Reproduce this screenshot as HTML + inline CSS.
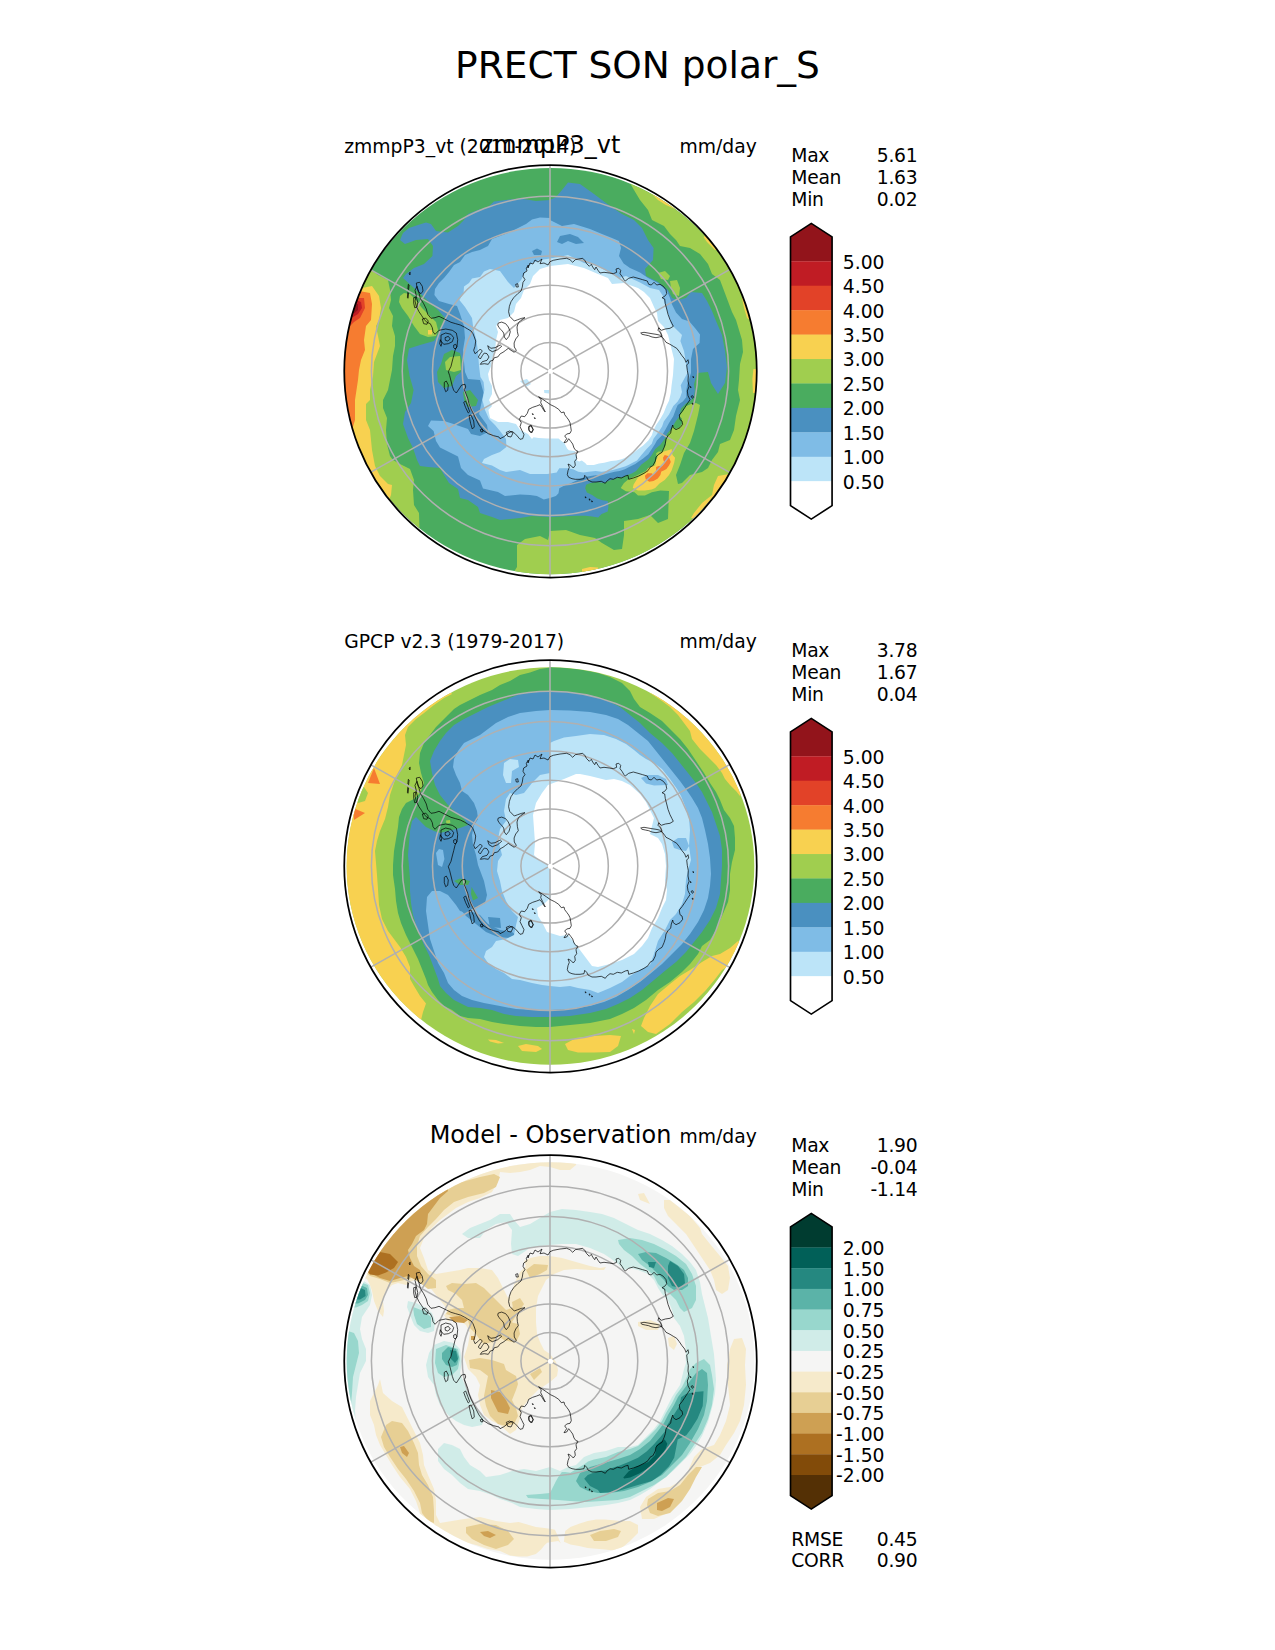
<!DOCTYPE html>
<html lang="en"><head><meta charset="utf-8"><title>PRECT SON polar_S</title>
<style>html,body{margin:0;padding:0;background:#fff}svg{display:block}text{font-family:"DejaVu Sans","Liberation Sans",sans-serif;fill:#000}</style>
</head><body>
<svg width="1275" height="1650" viewBox="0 0 1275 1650">
<rect width="1275" height="1650" fill="#fff"/>
<defs>
<clipPath id="c0"><circle cx="550.50" cy="371.25" r="206.25"/></clipPath>
<clipPath id="d0"><ellipse cx="550.50" cy="371.05" rx="207.00" ry="203.10"/></clipPath>
<clipPath id="c1"><circle cx="550.50" cy="866.25" r="206.25"/></clipPath>
<clipPath id="d1"><ellipse cx="550.50" cy="866.05" rx="203.80" ry="198.80"/></clipPath>
<clipPath id="c2"><circle cx="550.50" cy="1361.25" r="206.25"/></clipPath>
<clipPath id="d2"><ellipse cx="550.50" cy="1361.05" rx="203.80" ry="198.80"/></clipPath>
</defs>
<text x="637.5" y="77.6" font-size="37.5" text-anchor="middle">PRECT SON polar_S</text>
<g clip-path="url(#c0)">
<g clip-path="url(#d0)">
<rect x="340" y="161.0" width="422" height="422" fill="#4aac5f"/>
<path d="M370.0 269.0 L378.0 275.0 L388.0 280.0 L390.0 290.0 L391.0 300.0 L389.0 308.0 L393.0 316.0 L392.0 326.0 L395.0 336.0 L395.0 346.0 L393.0 356.0 L392.0 370.0 L390.0 380.0 L388.0 390.0 L383.0 400.0 L383.0 408.0 L387.0 418.0 L386.0 430.0 L387.0 444.0 L390.0 456.0 L393.0 460.0 L400.0 464.0 L410.0 469.0 L414.0 480.0 L413.0 490.0 L414.0 505.0 L419.0 513.0 L419.6 532.0 L400.0 570.0 L320.0 570.0 L320.0 250.0 L360.0 250.0 Z" fill="#a0ce4f" />
<path d="M362.0 288.0 L372.0 286.0 L379.0 296.0 L381.0 308.0 L379.0 320.0 L376.0 326.0 L378.0 336.0 L380.0 346.0 L377.0 354.0 L374.0 362.0 L373.0 376.0 L370.0 390.0 L370.0 400.0 L366.0 404.0 L366.0 420.0 L370.0 430.0 L372.0 450.0 L375.0 466.0 L380.0 476.0 L388.0 484.0 L392.0 485.0 L391.0 495.0 L389.0 500.0 L370.0 530.0 L320.0 520.0 L320.0 280.0 Z" fill="#f8d150" />
<path d="M359.0 291.0 L370.0 293.0 L372.0 304.0 L371.0 320.0 L366.0 326.0 L364.0 340.0 L365.0 350.0 L361.0 360.0 L359.0 370.0 L358.0 380.0 L355.0 400.0 L355.0 420.0 L352.0 430.0 L330.0 435.0 L330.0 290.0 Z" fill="#f67c30" />
<path d="M357.0 298.0 L364.0 298.0 L365.0 308.0 L360.0 318.0 L354.0 322.0 L350.0 326.0 L335.0 326.0 L335.0 298.0 Z" fill="#e24228" />
<path d="M356.0 300.0 L361.0 302.0 L362.0 308.0 L358.0 314.0 L353.0 317.0 L338.0 317.0 L338.0 300.0 Z" fill="#c01c24" />
<path d="M355.0 304.0 L358.0 304.0 L358.0 310.0 L354.4 313.0 L340.0 313.0 L340.0 304.0 Z" fill="#92141b" />
<path d="M630.0 183.0 L634.0 190.0 L640.0 200.0 L648.0 210.0 L652.0 220.0 L664.0 226.0 L670.0 234.0 L676.0 240.0 L680.0 246.0 L690.0 248.0 L700.0 254.0 L708.0 264.0 L712.0 274.0 L720.0 280.0 L726.0 296.0 L732.0 312.0 L736.0 320.0 L742.0 340.0 L743.0 352.0 L740.0 364.0 L739.0 380.0 L738.0 390.0 L740.0 400.0 L736.0 416.0 L734.0 430.0 L730.0 440.0 L720.0 444.0 L718.0 452.0 L712.0 460.0 L708.0 468.0 L702.0 472.0 L690.0 475.0 L682.0 483.0 L678.0 484.0 L676.0 475.0 L680.0 465.0 L684.0 453.0 L690.0 443.0 L694.0 431.0 L698.0 415.0 L700.0 405.0 L696.0 403.0 L691.0 404.0 L686.3 405.9 L679.4 416.2 L682.0 418.8 L682.0 424.0 L679.4 427.5 L675.1 429.2 L673.3 426.6 L671.6 430.0 L668.2 435.2 L666.4 439.5 L665.6 445.6 L662.1 451.6 L658.7 451.6 L656.1 453.3 L656.9 457.7 L655.2 462.8 L651.8 466.3 L648.3 469.7 L641.4 473.2 L634.5 476.6 L628.5 479.2 L624.0 483.0 L620.7 487.9 L625.9 491.3 L634.5 492.2 L638.0 495.6 L644.9 495.6 L651.8 492.2 L660.4 490.4 L669.0 491.0 L668.0 519.0 L658.0 523.0 L650.0 515.0 L638.0 519.0 L624.0 521.0 L624.0 535.0 L622.0 549.0 L614.0 550.0 L602.0 543.0 L595.0 538.0 L580.0 535.0 L566.0 530.0 L550.0 531.0 L548.0 540.0 L540.0 536.0 L525.0 539.0 L517.0 545.0 L517.0 567.0 L512.0 575.0 L512.0 600.0 L790.0 600.0 L790.0 150.0 L630.0 150.0 Z" fill="#a0ce4f" />
<path d="M651.0 193.0 L658.0 200.0 L666.0 205.0 L675.0 209.0 L682.0 208.0 L662.0 190.0 Z" fill="#f8d150" />
<path d="M703.6 237.0 L707.0 242.0 L711.0 246.0 L715.0 250.0 L722.0 248.0 L710.0 232.0 Z" fill="#f8d150" />
<path d="M742.0 298.0 L744.0 308.0 L747.0 318.0 L750.0 320.0 L754.0 300.0 Z" fill="#f8d150" />
<path d="M753.4 369.0 L752.4 379.0 L753.0 393.0 L758.0 393.0 L760.0 369.0 Z" fill="#f8d150" />
<path d="M729.0 474.0 L718.0 476.0 L714.0 485.0 L712.0 495.0 L702.0 503.0 L694.0 513.0 L691.0 518.0 L710.0 521.0 L734.0 485.0 Z" fill="#f8d150" />
<path d="M582.0 569.0 L590.0 567.0 L598.0 567.4 L600.0 575.0 L582.0 575.0 Z" fill="#f8d150" />
<path d="M632.8 487.9 L633.6 484.4 L638.0 477.5 L644.9 473.2 L648.3 468.0 L655.2 465.4 L656.1 460.2 L658.7 455.1 L663.8 451.6 L669.0 449.9 L671.6 449.0 L672.5 455.1 L675.1 457.7 L674.2 462.8 L671.6 470.6 L669.0 474.9 L664.7 480.1 L659.5 483.5 L655.2 487.9 L651.8 489.6 L644.9 490.4 L638.0 490.4 L634.5 488.7 Z" fill="#f8d150" />
<path d="M663.0 457.7 L664.7 455.1 L668.2 455.9 L669.9 459.4 L670.8 462.0 L669.0 465.4 L666.4 468.9 L663.8 470.6 L661.3 471.5 L660.4 474.9 L657.8 478.4 L653.5 481.0 L649.2 481.8 L645.7 479.2 L644.9 475.8 L647.5 473.2 L651.8 473.2 L653.5 474.9 L656.1 471.5 L656.1 467.1 L658.7 465.9 L662.1 466.3 L664.7 462.8 L663.4 460.2 Z" fill="#f67c30" />
<path d="M658.0 273.0 L665.0 271.0 L670.0 276.0 L668.0 280.0 L661.0 279.0 Z" fill="#a0ce4f" />
<path d="M670.0 281.0 L677.0 280.0 L680.0 288.0 L679.0 296.0 L673.0 294.0 L671.0 288.0 Z" fill="#a0ce4f" />
<path d="M550.0 200.0 L536.0 201.0 L520.0 198.6 L506.0 200.0 L494.0 201.4 L488.0 207.0 L478.0 210.0 L468.0 214.0 L464.0 220.0 L458.0 226.0 L448.0 232.4 L436.0 231.0 L431.0 224.0 L426.0 222.4 L418.0 225.0 L409.0 228.0 L403.0 233.0 L400.0 240.0 L405.0 244.0 L416.0 240.0 L428.0 239.0 L433.0 246.0 L432.4 256.0 L424.0 264.0 L414.0 268.0 L406.0 274.0 L403.0 278.0 L414.0 288.0 L426.0 299.0 L438.0 310.0 L445.0 318.0 L442.0 326.0 L438.0 334.0 L434.0 341.0 L420.0 345.0 L409.0 348.4 L407.0 360.0 L409.6 376.0 L413.6 390.0 L411.0 403.0 L405.0 412.0 L403.0 424.0 L408.0 438.0 L413.0 448.0 L417.0 460.0 L420.0 466.0 L428.0 467.0 L440.0 468.0 L444.0 475.0 L449.0 483.0 L458.0 489.0 L460.0 498.0 L468.0 500.0 L478.0 507.0 L480.0 513.0 L492.0 517.0 L500.0 520.0 L510.0 519.0 L520.0 518.0 L532.0 516.0 L550.0 517.0 L576.6 515.8 L585.2 515.8 L592.1 516.6 L598.2 517.5 L601.6 514.0 L607.7 511.5 L608.5 506.3 L607.7 501.1 L602.5 500.2 L597.3 498.5 L592.1 495.1 L586.9 492.5 L585.2 488.2 L586.1 484.7 L590.4 483.0 L597.3 482.1 L604.2 483.0 L607.7 481.3 L612.8 479.5 L618.0 477.8 L623.2 476.9 L626.6 475.2 L631.8 473.5 L636.1 470.9 L641.4 464.6 L648.3 459.4 L651.8 455.1 L655.2 449.0 L660.4 444.7 L664.7 438.7 L667.3 433.5 L671.6 428.3 L675.1 422.3 L679.4 416.2 L681.1 408.5 L686.3 403.3 L689.7 401.6 L694.0 397.3 L694.9 390.4 L694.0 384.3 L697.0 373.0 L708.0 372.0 L711.0 383.0 L718.0 394.0 L725.0 383.0 L727.0 367.0 L725.0 351.0 L722.0 335.0 L716.0 321.0 L712.0 311.0 L707.0 301.0 L702.0 293.0 L691.0 292.0 L686.0 298.0 L678.0 300.0 L672.0 298.0 L668.0 290.0 L658.0 282.0 L646.0 276.0 L645.0 269.0 L653.0 260.0 L653.6 248.0 L648.0 240.0 L642.0 228.0 L634.0 220.0 L622.0 214.0 L616.0 210.0 L606.0 203.0 L594.0 194.0 L580.0 184.0 L568.0 182.4 L562.0 190.0 L556.0 197.0 Z" fill="#4a90c0" />
<path d="M550.0 218.0 L540.0 217.6 L532.0 219.4 L526.0 224.0 L516.0 229.0 L508.0 233.0 L500.0 236.0 L492.0 239.0 L488.0 246.0 L480.0 250.0 L472.0 252.0 L465.0 255.0 L460.0 262.0 L454.0 265.0 L449.0 272.0 L444.0 278.0 L439.0 283.0 L435.0 289.0 L434.4 295.0 L439.0 301.0 L449.0 304.0 L457.0 306.0 L460.0 314.0 L464.0 326.0 L465.0 338.0 L463.0 350.0 L464.0 362.0 L465.0 372.0 L468.0 379.0 L480.0 380.0 L483.6 393.0 L481.0 405.0 L479.0 414.0 L487.0 425.0 L488.0 432.0 L480.0 436.0 L471.0 434.0 L468.0 429.0 L452.0 423.6 L444.0 421.0 L431.0 420.6 L428.0 426.0 L433.6 431.0 L436.0 441.0 L440.0 447.4 L451.0 453.0 L458.0 456.6 L461.0 468.0 L468.0 475.0 L480.0 480.6 L483.0 488.6 L498.0 492.0 L505.0 496.0 L520.0 494.4 L530.0 495.1 L536.9 495.9 L543.8 499.4 L550.7 497.7 L555.9 495.9 L558.5 493.3 L559.3 488.2 L564.5 485.6 L569.7 483.8 L574.9 481.3 L580.0 478.7 L585.2 476.9 L590.4 476.1 L595.6 475.2 L601.6 475.2 L607.7 473.5 L614.6 471.8 L619.7 470.9 L624.9 469.2 L630.1 466.6 L635.3 464.0 L638.0 462.0 L643.1 458.5 L648.3 454.2 L651.8 449.0 L655.2 443.8 L656.9 440.4 L662.1 435.2 L665.6 429.2 L669.0 423.1 L673.3 416.2 L675.9 409.3 L677.7 405.0 L682.8 401.6 L686.3 397.3 L686.3 390.4 L687.1 385.2 L691.0 373.0 L691.0 359.0 L693.0 349.0 L699.6 343.0 L700.0 334.6 L695.4 328.4 L689.4 321.4 L682.0 319.0 L676.0 312.4 L672.0 304.4 L670.0 298.0 L667.0 291.0 L658.0 283.0 L648.0 278.0 L640.0 272.4 L630.0 268.0 L623.6 263.6 L619.0 256.0 L621.0 248.0 L619.0 241.0 L612.0 238.0 L602.0 234.0 L590.0 229.0 L574.0 224.0 L562.0 226.0 L550.0 220.0 Z" fill="#7fbce6" />
<path d="M557.0 242.0 L560.0 236.0 L570.0 234.0 L578.0 237.0 L584.0 243.0 L576.0 244.0 L568.0 241.0 L562.0 244.0 Z" fill="#4a90c0" />
<path d="M532.0 251.0 L537.0 248.6 L542.0 251.0 L541.0 255.0 L534.0 255.0 Z" fill="#4a90c0" />
<path d="M550.0 258.4 L540.0 260.0 L532.0 263.0 L527.0 269.0 L521.0 280.0 L514.0 288.0 L508.0 282.0 L500.0 271.0 L490.0 269.0 L484.0 271.4 L480.0 277.0 L472.0 278.4 L469.0 283.0 L464.0 286.4 L463.6 293.0 L459.4 300.0 L465.0 307.0 L472.0 318.0 L473.4 329.0 L476.4 340.0 L478.0 352.0 L479.0 366.0 L480.4 377.0 L483.6 382.0 L484.4 390.0 L482.4 400.0 L485.0 410.0 L489.0 419.0 L495.0 425.0 L500.0 431.0 L506.0 439.0 L506.4 447.0 L500.0 452.0 L492.0 455.0 L484.0 459.0 L482.0 463.0 L492.0 465.4 L500.0 470.0 L506.0 472.0 L520.0 470.0 L530.0 473.9 L538.6 473.9 L547.3 473.9 L556.7 472.6 L559.3 468.3 L567.1 468.3 L573.1 469.2 L578.3 471.8 L583.5 472.6 L588.7 471.8 L595.6 470.9 L601.6 471.8 L607.7 470.9 L612.8 470.0 L618.9 468.3 L624.9 466.6 L628.4 464.9 L633.5 462.3 L637.0 460.6 L641.4 455.1 L646.6 449.0 L651.8 443.8 L653.5 438.7 L658.7 431.8 L662.1 426.6 L663.8 421.4 L669.0 414.5 L673.3 405.9 L677.7 401.6 L680.2 397.3 L682.0 392.1 L680.7 385.2 L687.4 373.0 L686.0 363.0 L684.0 351.0 L680.4 341.0 L682.0 335.0 L678.0 331.0 L671.0 324.0 L668.0 313.0 L664.4 303.0 L663.0 296.0 L659.0 290.0 L650.0 288.0 L640.0 282.6 L626.0 276.0 L619.0 278.0 L606.0 271.0 L596.0 265.0 L584.0 263.0 L568.0 255.0 L559.0 257.0 L550.0 258.4 Z" fill="#bce4f8" />
<path d="M550.0 266.0 L540.0 269.0 L533.0 276.0 L530.0 284.0 L524.0 290.0 L521.0 298.0 L516.0 304.0 L514.0 312.0 L508.0 318.0 L500.0 320.0 L496.0 326.0 L498.0 332.0 L496.0 340.0 L495.0 352.0 L492.0 358.0 L491.0 366.0 L488.0 374.0 L489.0 380.0 L492.0 386.0 L492.0 394.0 L489.0 400.0 L492.0 406.0 L488.4 410.0 L490.0 418.0 L498.0 422.0 L508.0 422.0 L516.0 424.0 L520.0 430.0 L528.0 434.0 L532.0 439.0 L533.5 437.3 L538.6 438.1 L547.3 438.6 L558.5 438.6 L561.1 440.7 L564.5 443.3 L567.1 448.5 L568.8 450.2 L574.9 451.1 L576.6 454.5 L577.0 460.6 L579.2 461.4 L581.8 460.6 L585.2 463.1 L586.9 464.9 L593.8 464.9 L599.0 463.6 L604.2 462.7 L611.1 461.0 L616.3 460.6 L621.5 459.3 L624.9 458.0 L628.4 455.4 L633.5 452.8 L637.9 449.3 L643.1 445.6 L648.3 440.4 L651.8 435.2 L653.5 430.0 L656.1 424.9 L660.4 418.8 L663.8 412.8 L666.4 405.9 L669.0 400.7 L670.8 392.9 L671.6 385.2 L673.0 375.0 L674.0 359.0 L670.0 343.0 L668.0 335.0 L664.0 327.0 L658.0 321.0 L657.0 313.0 L654.0 307.0 L650.0 298.0 L644.0 292.0 L638.0 288.0 L624.0 283.0 L612.0 284.0 L608.0 278.0 L598.0 274.0 L584.0 268.0 L568.0 264.0 L550.0 266.0 Z" fill="#ffffff" />
<path d="M520.0 381.0 L527.0 379.0 L531.0 384.0 L526.0 387.0 Z" fill="#bce4f8" />
<path d="M544.0 390.0 L549.0 390.0 L549.0 393.6 L544.4 393.0 Z" fill="#bce4f8" />
<path d="M400.0 296.0 L404.0 293.0 L410.0 294.0 L416.0 300.0 L422.0 308.0 L430.0 316.0 L436.0 322.0 L438.0 330.0 L436.0 336.0 L428.0 337.0 L420.0 334.0 L414.0 326.0 L408.0 316.0 L402.0 308.0 L399.0 302.0 Z" fill="#a0ce4f" />
<path d="M428.0 330.0 L432.0 330.0 L432.0 334.4 L428.0 334.4 Z" fill="#f8d150" />
<path d="M444.0 354.0 L452.0 350.0 L460.0 353.0 L462.0 360.0 L461.0 372.0 L456.0 376.0 L452.0 386.0 L444.0 388.0 L438.0 382.0 L437.0 372.0 L441.0 364.0 Z" fill="#4aac5f" />
<path d="M445.0 362.0 L450.0 357.0 L460.0 356.0 L461.0 370.0 L454.0 372.0 L446.0 370.0 Z" fill="#a0ce4f" />
<path d="M463.0 392.0 L470.0 390.0 L478.0 400.0 L476.0 406.0 L468.0 407.0 L464.0 400.0 Z" fill="#4aac5f" />
</g>
<g fill="none" stroke="#b0b0b0" stroke-width="1.55"><ellipse cx="550.00" cy="371.00" rx="29.10" ry="28.47"/><ellipse cx="550.00" cy="371.00" rx="58.31" ry="57.04"/><ellipse cx="550.00" cy="371.00" rx="87.75" ry="85.84"/><ellipse cx="550.00" cy="371.00" rx="117.52" ry="114.97"/><ellipse cx="550.00" cy="371.00" rx="147.76" ry="144.54"/><ellipse cx="550.00" cy="371.00" rx="178.59" ry="174.70"/><path d="M550.00 164.75 L550.00 577.25"/><path d="M368.67 473.41 L731.33 268.59"/><path d="M368.67 268.59 L731.33 473.41"/></g>
<g fill="none" stroke="#000" stroke-width="0.7" stroke-linejoin="round">
<path d="M540.0 263.7 L544.0 263.0 L548.0 265.0 L550.0 261.7 L553.3 260.3 L560.0 259.0 L566.7 258.3 L570.0 259.7 L572.7 262.3 L575.3 259.7 L578.7 259.0 L582.7 258.3 L584.7 260.3 L586.7 263.7 L589.3 266.3 L591.3 264.3 L592.7 267.0 L594.7 269.7 L596.0 267.0 L598.0 270.3 L600.0 273.0 L604.0 272.3 L609.3 273.0 L613.3 273.7 L616.7 272.3 L616.0 269.0 L618.7 268.3 L620.7 270.3 L620.0 273.7 L622.0 276.3 L624.0 279.7 L625.3 281.0 L628.7 278.3 L633.3 277.0 L638.0 278.3 L642.7 279.7 L647.3 281.0 L648.7 284.3 L651.3 285.0 L654.0 282.3 L656.7 285.0 L660.0 284.3 L663.3 286.3 L666.0 289.7 L666.7 293.7 L664.7 296.3 L662.0 297.7 L664.7 299.0 L665.3 303.7 L666.7 309.0 L668.0 314.3 L670.0 319.7 L672.0 323.7 L673.3 326.3 L670.0 328.3 L665.3 329.0 L661.3 330.3 L658.7 327.7 L658.0 330.3 L660.7 333.0 L662.0 336.3 L659.3 337.0 L656.0 337.7 L652.0 337.0 L648.7 335.7 L645.3 335.0 L642.0 334.3 L640.7 333.0 L644.0 332.3 L648.0 333.0 L652.0 333.7 L656.0 334.3 L659.3 335.0 L662.7 337.7 L664.7 340.3 L666.0 342.3 L670.0 344.3 L673.3 346.3 L676.7 348.3 L679.3 351.7 L682.0 355.7 L684.7 359.0 L686.0 362.3 L688.0 359.7 L688.7 363.0 L686.7 365.0 L687.3 370.3 L688.3 375.7 L688.0 381.0 L689.1 386.3 L687.3 391.0 L688.0 395.7 L690.0 399.7 L687.3 403.7 L684.7 407.7 L682.0 411.7 L679.3 415.0 L680.0 419.7 L682.0 421.0 L682.7 424.3 L680.0 427.7 L676.0 429.7 L673.3 427.7 L672.7 425.0 L671.3 429.0 L670.7 433.0 L668.0 435.7 L666.0 439.0 L665.3 443.7 L664.0 447.7 L662.0 452.3 L658.7 454.3 L656.0 457.0 L655.3 461.0 L653.3 465.0 L653.3 465.3 L650.0 467.3 L648.0 470.7 L644.0 473.3 L638.7 476.0 L633.3 478.0 L628.7 479.3 L628.0 475.3 L625.3 476.0 L621.3 478.0 L617.3 477.3 L613.3 479.3 L610.0 478.7 L606.7 481.3 L605.3 483.3 L601.3 481.3 L596.0 482.0 L592.0 482.0 L588.0 480.0 L586.7 477.3 L584.7 475.3 L584.0 478.7 L580.0 479.3 L575.3 479.3 L572.0 478.7 L568.7 477.3 L567.3 474.7 L568.0 470.7 L569.3 467.3 L568.0 464.0 L570.7 465.3 L573.3 468.0 L575.3 465.3 L574.7 461.3 L576.7 458.7 L576.0 454.7 L578.0 451.3 L576.0 450.7 L574.0 448.0 L572.7 444.0 L570.7 441.3 L568.7 438.7 L566.7 442.0 L564.0 442.7 L565.3 440.7 L566.7 438.7 L564.7 436.0 L566.7 434.0 L570.0 433.3 L571.3 430.7 L570.7 426.7 L570.0 422.7 L568.7 420.0 L566.7 417.3 L564.7 414.7 L564.0 412.0 L561.3 412.7 L558.7 409.3 L554.7 406.7 L550.5 404.7 L546.7 402.0 L542.7 399.3 L538.7 396.7 L541.3 400.0 L540.7 402.7 L542.7 406.7 L545.3 412.0 L544.0 410.7 L542.0 407.3 L540.0 404.7 L536.7 406.0 L532.7 407.3 L528.7 409.3 L527.3 413.3 L524.7 416.7 L521.3 416.0 L519.3 419.3 L521.3 422.7 L520.0 426.7 L522.0 430.7 L524.0 434.7 L522.7 438.7 L520.0 439.3 L517.3 436.0 L514.7 433.3 L512.0 431.3 L508.0 433.3 L504.0 436.7 L500.0 438.7 L499.0 437.0 L493.7 435.7 L488.3 433.7 L483.0 430.3 L479.0 425.0 L476.3 419.7 L473.7 414.3 L471.0 409.0 L469.0 403.7 L467.7 398.3 L465.7 393.0 L464.3 389.7 L465.7 387.0 L465.0 384.3 L461.7 385.0 L459.0 389.0 L456.3 393.0 L453.7 390.3 L452.3 386.3 L451.0 381.0 L449.7 375.7 L448.3 371.7 L451.0 366.3 L452.3 361.0 L453.7 355.7 L455.0 350.3 L457.0 346.3 L457.7 339.7 L456.3 333.0 L452.3 330.3 L445.7 329.0 L439.0 330.3 L435.0 334.3 L433.0 331.7 L432.3 327.7 L430.3 323.7 L427.0 322.3 L424.3 319.7 L421.7 315.7 L419.0 311.7 L416.3 306.3 L415.0 301.0 L416.3 295.7 L415.0 290.3 L417.0 286.3 L418.7 291.7 L420.3 298.3 L423.7 303.7 L426.3 309.0 L427.7 314.3 L431.0 318.3 L435.0 317.7 L439.0 316.3 L443.0 318.3 L447.0 320.3 L451.0 322.3 L455.7 323.7 L460.3 325.0 L464.3 327.0 L467.7 329.0 L471.0 331.0 L473.0 333.7 L474.3 337.0 L475.7 341.0 L475.0 346.3 L473.7 350.3 L475.0 353.7 L477.7 351.7 L480.3 349.0 L482.3 351.0 L480.3 353.7 L478.3 357.0 L480.3 359.0 L482.3 355.7 L484.3 353.0 L487.0 353.7 L489.0 357.0 L487.0 360.3 L482.3 361.7 L480.3 364.3 L484.3 363.7 L488.3 364.3 L490.3 361.0 L493.0 360.3 L494.3 357.7 L497.7 357.0 L500.3 353.7 L503.0 352.3 L505.7 350.3 L508.3 348.3 L511.0 350.3 L514.3 352.3 L516.3 350.3 L514.3 347.0 L514.1 343.0 L515.7 339.0 L518.3 335.7 L517.4 331.7 L517.0 327.0 L518.3 323.0 L521.0 320.3 L525.0 317.7 L521.7 318.3 L517.7 319.7 L514.3 321.0 L512.3 319.0 L509.7 316.3 L508.6 311.7 L509.4 306.3 L511.0 301.7 L513.7 297.7 L517.7 293.7 L521.0 291.0 L522.3 287.0 L523.0 282.3 L525.0 279.7 L523.0 276.3 L523.7 273.0 L527.0 271.0 L526.3 268.3 L528.3 265.0 L528.0 268.0 L530.0 263.0 L533.0 264.0 L535.0 260.0 L538.0 262.0 L542.0 259.0 Z"/>
<path d="M498.3 323.0 L501.7 322.1 L505.7 323.7 L508.3 327.0 L510.3 331.7 L509.0 336.3 L506.3 339.7 L504.3 337.0 L503.7 333.0 L501.7 330.3 L499.0 327.7 L497.7 325.0 Z"/>
<path d="M487.7 345.7 L491.0 348.3 L495.0 347.7 L500.3 345.0 L501.7 346.3 L497.7 349.7 L492.3 351.7 L489.0 349.7 Z"/>
<path d="M529.0 426.3 L531.0 425.0 L533.4 429.7 L531.0 432.3 L529.0 430.3 Z"/>
<path d="M441.0 335.0 L445.7 333.0 L451.0 334.3 L453.7 337.7 L452.3 341.7 L448.3 343.7 L443.7 344.3 L441.0 341.0 Z"/>
<path d="M440.3 339.7 L441.7 343.7 L441.0 346.3 L439.7 343.7 Z"/>
<path d="M445.0 337.7 L448.3 336.3 L450.3 339.0 L447.7 341.0 L445.4 340.3 Z"/>
<path d="M453.7 345.0 L455.7 344.3 L457.0 347.0 L455.0 349.0 L453.7 347.7 Z"/>
<path d="M416.3 283.0 L419.7 282.3 L422.3 286.3 L423.0 291.0 L421.0 293.7 L418.3 291.7 L417.0 287.7 Z"/>
<path d="M413.7 297.7 L416.3 297.0 L417.7 302.3 L417.0 307.0 L414.7 307.7 L413.7 303.0 Z"/>
<path d="M422.3 319.0 L425.7 318.1 L428.3 321.0 L427.0 324.3 L423.7 323.7 Z"/>
<path d="M408.3 284.3 L409.1 285.0 L408.6 289.7 L407.9 289.0 Z"/>
<path d="M407.7 292.3 L408.6 293.0 L408.1 298.3 L407.4 297.7 Z"/>
<path d="M409.0 273.0 L410.3 272.3 L409.9 275.0 Z"/>
<path d="M444.3 382.3 L446.3 381.0 L448.3 385.0 L447.7 390.3 L445.7 391.7 L444.3 387.7 Z"/>
<path d="M463.7 402.3 L465.7 401.0 L467.7 406.3 L469.7 411.7 L468.3 413.0 L465.7 407.7 Z"/>
<path d="M469.0 415.7 L471.0 415.0 L473.7 421.0 L474.3 427.0 L472.3 429.0 L470.7 423.7 Z"/>
<path d="M480.3 429.7 L482.3 429.0 L483.0 431.7 L481.0 431.9 Z"/>
<path d="M506.3 432.3 L509.7 431.0 L513.0 433.0 L511.0 437.0 L507.7 436.3 Z"/>
<path d="M528.7 426.7 L531.3 426.0 L533.1 430.0 L532.0 432.7 L530.0 432.0 L528.7 429.3 Z"/>
<path d="M532.3 413.6 L533.3 414.0 L532.9 414.9 Z"/>
<path d="M534.3 417.6 L535.3 418.0 L534.9 418.9 Z"/>
<path d="M585.1 496.8 L586.1 497.3 L585.6 498.1 Z"/>
<path d="M589.1 498.9 L590.1 499.5 L589.6 500.3 Z"/>
<path d="M591.5 500.8 L592.5 501.3 L592.0 502.1 Z"/>
<path d="M692.8 376.5 L693.9 377.0 L693.3 377.8 Z"/>
<path d="M690.1 386.5 L691.2 387.0 L690.7 387.8 Z"/>
<path d="M691.1 396.3 L692.7 395.7 L693.6 397.3 L692.3 398.3 Z"/>
<path d="M692.1 403.1 L693.2 403.7 L692.7 404.5 Z"/>
<path d="M515.7 284.3 L517.7 283.7 L518.3 287.0 L516.3 287.0 Z"/>
</g>
<circle cx="550.50" cy="371.25" r="2.6" fill="#fff"/>
</g>
<circle cx="550.50" cy="371.25" r="206.25" fill="none" stroke="#000" stroke-width="1.75"/>
<text x="344.25" y="152.50" font-size="18.75">zmmpP3_vt (2011-2014)</text>
<text x="550.5" y="152.50" font-size="23.96" text-anchor="middle">zmmpP3_vt</text>
<text x="756.75" y="152.50" font-size="18.75" text-anchor="end">mm/day</text>
<text x="791.3" y="162.25" font-size="18.75" letter-spacing="-0.3">Max</text><text x="917.4" y="162.25" font-size="18.75" text-anchor="end" letter-spacing="-0.3">5.61</text><text x="791.3" y="184.05" font-size="18.75" letter-spacing="-0.3">Mean</text><text x="917.4" y="184.05" font-size="18.75" text-anchor="end" letter-spacing="-0.3">1.63</text><text x="791.3" y="205.85" font-size="18.75" letter-spacing="-0.3">Min</text><text x="917.4" y="205.85" font-size="18.75" text-anchor="end" letter-spacing="-0.3">0.02</text>
<path d="M790.50 261.59 L790.50 236.85 L811.29 223.41 L832.07 236.85 L832.07 261.59 Z" fill="#92141b"/><rect x="790.50" y="261.29" width="41.57" height="24.74" fill="#c01c24"/><rect x="790.50" y="285.72" width="41.57" height="24.74" fill="#e24228"/><rect x="790.50" y="310.16" width="41.57" height="24.74" fill="#f67c30"/><rect x="790.50" y="334.60" width="41.57" height="24.74" fill="#f8d150"/><rect x="790.50" y="359.03" width="41.57" height="24.74" fill="#a0ce4f"/><rect x="790.50" y="383.47" width="41.57" height="24.74" fill="#4aac5f"/><rect x="790.50" y="407.90" width="41.57" height="24.74" fill="#4a90c0"/><rect x="790.50" y="432.34" width="41.57" height="24.74" fill="#7fbce6"/><rect x="790.50" y="456.78" width="41.57" height="24.74" fill="#bce4f8"/><path d="M790.50 481.21 L790.50 505.65 L811.29 519.09 L832.07 505.65 L832.07 481.21 Z" fill="#ffffff"/><path d="M790.50 236.85 L811.29 223.41 L832.07 236.85 L832.07 505.65 L811.29 519.09 L790.50 505.65 Z" fill="none" stroke="#000" stroke-width="1.67" stroke-linejoin="miter"/><text x="884.5" y="268.69" font-size="18.75" text-anchor="end">5.00</text><text x="884.5" y="293.12" font-size="18.75" text-anchor="end">4.50</text><text x="884.5" y="317.56" font-size="18.75" text-anchor="end">4.00</text><text x="884.5" y="342.00" font-size="18.75" text-anchor="end">3.50</text><text x="884.5" y="366.43" font-size="18.75" text-anchor="end">3.00</text><text x="884.5" y="390.87" font-size="18.75" text-anchor="end">2.50</text><text x="884.5" y="415.30" font-size="18.75" text-anchor="end">2.00</text><text x="884.5" y="439.74" font-size="18.75" text-anchor="end">1.50</text><text x="884.5" y="464.18" font-size="18.75" text-anchor="end">1.00</text><text x="884.5" y="488.61" font-size="18.75" text-anchor="end">0.50</text>
<g clip-path="url(#c1)">
<g clip-path="url(#d1)">
<rect x="340" y="656.0" width="422" height="422" fill="#a0ce4f"/>
<path d="M452.0 694.0 L444.0 698.0 L434.0 705.0 L424.0 713.0 L416.0 719.0 L408.0 727.0 L405.0 735.0 L406.0 745.0 L404.0 755.0 L402.0 765.0 L398.0 773.0 L394.0 783.0 L390.0 795.0 L388.0 807.0 L385.0 819.0 L380.0 831.0 L377.0 841.0 L375.0 851.0 L376.0 863.0 L377.0 875.0 L378.0 889.0 L379.0 905.0 L382.0 919.0 L388.0 931.0 L394.0 939.0 L400.0 947.0 L406.0 957.0 L410.0 967.0 L410.0 979.0 L410.0 979.0 L414.0 986.0 L420.0 996.0 L426.0 1003.6 L423.0 1012.0 L421.0 1020.0 L400.0 1060.0 L320.0 1060.0 L320.0 680.0 L440.0 680.0 Z" fill="#f8d150" />
<path d="M358.0 788.0 L364.0 787.0 L368.0 793.0 L365.0 801.0 L358.0 803.0 L354.0 795.0 Z" fill="#a0ce4f" />
<path d="M368.0 783.0 L374.0 768.0 L380.0 784.0 Z" fill="#f67c30" />
<path d="M353.0 808.0 L365.0 813.0 L354.0 820.0 Z" fill="#f67c30" />
<path d="M650.0 693.0 L662.0 701.0 L670.0 707.0 L678.0 715.0 L684.0 723.0 L690.0 731.0 L692.0 739.0 L700.0 749.0 L708.0 757.0 L716.0 765.0 L722.0 773.0 L725.0 779.0 L730.0 785.0 L736.0 791.0 L740.0 796.0 L750.0 785.0 L710.0 715.0 L670.0 685.0 Z" fill="#f8d150" />
<path d="M738.0 941.0 L730.0 948.0 L720.0 954.0 L712.0 956.0 L702.0 962.0 L690.0 970.0 L680.0 976.0 L670.0 984.0 L658.0 994.0 L650.0 1006.0 L644.0 1018.0 L641.0 1026.0 L648.0 1032.0 L656.0 1034.0 L670.0 1024.0 L682.0 1012.0 L694.0 1002.0 L706.0 990.0 L716.0 978.0 L722.0 970.0 L730.0 965.0 L750.0 950.0 Z" fill="#f8d150" />
<path d="M565.0 1044.0 L576.0 1038.0 L594.0 1036.0 L610.0 1035.0 L621.0 1036.0 L618.0 1046.0 L610.0 1052.0 L594.0 1052.4 L578.0 1052.4 L568.0 1050.0 Z" fill="#f8d150" />
<path d="M518.0 1046.0 L526.0 1044.0 L538.0 1046.0 L542.0 1049.0 L536.0 1052.0 L522.0 1051.0 Z" fill="#f8d150" />
<path d="M488.0 1039.4 L496.0 1040.0 L504.0 1043.0 L498.0 1043.6 L490.0 1041.6 Z" fill="#f8d150" />
<path d="M632.0 1029.0 L635.0 1030.0 L634.0 1034.0 Z" fill="#f8d150" />
<path d="M550.0 667.4 L540.0 669.0 L530.0 672.6 L520.0 675.0 L510.0 681.0 L500.0 685.0 L492.0 690.0 L480.0 695.0 L470.0 700.0 L460.0 705.0 L454.0 709.0 L448.0 715.0 L442.0 721.0 L436.0 727.0 L430.0 735.0 L424.0 743.0 L420.0 753.0 L419.0 763.0 L421.0 773.0 L424.0 783.0 L420.0 793.0 L414.0 799.0 L406.0 803.0 L402.0 809.0 L399.0 817.0 L398.0 827.0 L396.0 839.0 L394.0 851.0 L393.0 865.0 L393.0 875.0 L395.0 889.0 L396.0 901.0 L398.0 913.0 L401.0 923.0 L406.0 935.0 L410.0 943.0 L414.0 951.0 L418.0 959.0 L422.0 969.0 L426.0 979.0 L428.0 985.0 L432.0 992.0 L438.0 1000.0 L444.0 1006.0 L452.0 1010.0 L460.0 1016.0 L468.0 1018.0 L480.0 1019.0 L492.0 1022.0 L504.0 1024.0 L520.0 1026.0 L536.0 1027.0 L550.0 1027.0 L570.0 1025.0 L590.0 1023.0 L610.0 1019.0 L622.0 1014.0 L634.0 1008.0 L646.0 1000.0 L658.0 990.0 L670.0 982.0 L682.0 972.0 L690.0 964.0 L698.0 954.0 L702.0 946.0 L710.0 940.0 L716.0 930.0 L722.0 916.0 L728.0 902.0 L730.0 890.0 L730.0 874.0 L732.0 862.0 L735.0 850.0 L735.0 838.0 L734.0 826.0 L730.0 818.0 L724.0 810.0 L720.0 800.0 L716.0 792.0 L710.0 783.0 L704.0 773.0 L696.0 761.0 L688.0 749.0 L680.0 739.0 L670.0 729.0 L662.0 721.0 L650.0 713.0 L640.0 707.0 L634.0 699.0 L630.0 691.0 L622.0 683.0 L610.0 677.0 L598.0 673.0 L580.0 669.4 L560.0 667.4 L550.0 667.0 Z" fill="#4aac5f" />
<path d="M550.0 692.0 L536.0 692.0 L520.0 694.0 L510.0 698.0 L500.0 702.0 L488.0 707.0 L476.0 713.0 L464.0 719.0 L454.0 725.0 L446.0 733.0 L440.0 741.0 L434.0 751.0 L430.0 761.0 L432.0 773.0 L435.0 785.0 L440.0 795.0 L448.0 805.0 L456.0 813.0 L464.0 819.0 L468.0 825.0 L460.0 828.0 L448.0 831.0 L440.0 833.0 L434.0 831.0 L426.0 827.0 L420.0 821.0 L416.0 817.0 L412.0 821.0 L410.0 831.0 L409.0 843.0 L408.0 855.0 L409.0 867.0 L410.0 879.0 L410.0 891.0 L411.0 903.0 L413.0 915.0 L416.0 925.0 L420.0 935.0 L424.0 945.0 L429.0 955.0 L432.0 963.0 L435.0 971.0 L438.0 979.0 L440.0 986.0 L446.0 993.0 L454.0 1000.0 L460.0 1003.0 L468.0 1007.0 L480.0 1008.0 L492.0 1010.0 L504.0 1014.0 L516.0 1016.0 L532.0 1017.0 L550.0 1017.0 L570.0 1016.0 L590.0 1013.0 L606.0 1009.0 L618.0 1004.0 L630.0 998.0 L642.0 990.0 L654.0 980.0 L666.0 970.0 L676.0 962.0 L686.0 952.0 L694.0 942.0 L702.0 932.0 L710.0 920.0 L716.0 908.0 L720.0 894.0 L721.0 880.0 L722.0 866.0 L722.0 850.0 L720.0 836.0 L716.0 824.0 L712.0 812.0 L706.0 800.0 L702.0 792.0 L696.0 783.0 L688.0 773.0 L680.0 763.0 L672.0 753.0 L662.0 743.0 L650.0 733.0 L640.0 723.0 L630.0 715.0 L620.0 707.0 L606.0 700.0 L590.0 695.0 L570.0 692.0 L550.0 691.4 Z" fill="#4a90c0" />
<path d="M550.0 710.0 L536.0 711.0 L520.0 713.0 L508.0 717.0 L496.0 723.0 L488.0 729.0 L480.0 735.0 L472.0 739.0 L464.0 743.0 L458.0 751.0 L454.0 759.0 L453.0 767.0 L456.0 775.0 L460.0 783.0 L462.0 791.0 L468.0 795.0 L474.0 803.0 L477.0 811.0 L478.0 819.0 L474.0 825.0 L472.0 835.0 L473.0 845.0 L476.0 855.0 L478.0 865.0 L484.0 881.0 L487.0 895.0 L485.0 903.0 L478.0 907.0 L468.0 913.0 L460.0 911.0 L456.0 905.0 L448.0 895.0 L440.0 891.0 L432.0 891.0 L427.0 897.0 L426.0 911.0 L428.0 925.0 L430.0 939.0 L434.0 951.0 L438.0 963.0 L444.0 973.0 L448.0 983.0 L454.0 990.0 L462.0 996.0 L472.0 1000.0 L484.0 1003.0 L500.0 1006.0 L516.0 1009.0 L532.0 1010.0 L550.0 1010.0 L570.0 1009.0 L590.0 1006.0 L604.0 1002.0 L616.0 997.0 L628.0 990.0 L640.0 982.0 L650.0 974.0 L662.0 964.0 L672.0 954.0 L682.0 944.0 L690.0 934.0 L698.0 922.0 L704.0 910.0 L708.0 898.0 L710.0 886.0 L711.0 874.0 L710.0 858.0 L708.0 844.0 L705.0 830.0 L702.0 818.0 L698.0 808.0 L692.0 798.0 L688.0 792.0 L680.0 781.0 L672.0 771.0 L664.0 761.0 L656.0 751.0 L648.0 741.0 L638.0 733.0 L628.0 725.0 L618.0 719.0 L606.0 715.0 L590.0 712.0 L570.0 710.6 L550.0 710.0 Z" fill="#7fbce6" />
<path d="M460.0 909.0 L470.0 911.0 L480.0 915.0 L488.0 924.0 L500.0 930.0 L512.0 932.0 L516.0 935.0 L510.0 938.0 L498.0 937.0 L486.0 932.0 L476.0 924.0 L466.0 916.0 Z" fill="#4a90c0" />
<path d="M488.0 917.0 L500.0 918.0 L501.0 928.0 L490.0 927.0 Z" fill="#4a90c0" />
<path d="M436.0 853.0 L439.0 849.0 L443.0 850.0 L444.4 859.0 L442.0 867.0 L438.0 865.0 Z" fill="#7fbce6" />
<path d="M454.0 881.0 L460.0 878.6 L470.0 881.0 L468.0 885.0 L460.0 885.0 Z" fill="#4aac5f" />
<path d="M471.6 887.0 L478.0 898.0 L473.0 900.6 L471.0 894.0 Z" fill="#4aac5f" />
<path d="M446.0 820.6 L450.0 820.0 L450.4 823.0 L446.4 823.4 Z" fill="#a0ce4f" />
<path d="M550.0 743.0 L550.0 773.0 L540.0 775.0 L532.0 783.0 L524.0 793.0 L516.0 795.0 L510.0 793.0 L506.0 799.0 L504.0 811.0 L506.0 821.0 L500.0 829.0 L498.0 839.0 L500.0 847.0 L502.0 855.0 L498.0 861.0 L497.0 871.0 L500.0 881.0 L502.0 891.0 L506.0 901.0 L512.0 911.0 L518.0 917.0 L516.0 925.0 L514.0 935.0 L506.0 939.0 L496.0 941.0 L492.0 947.0 L486.0 951.0 L484.0 957.0 L488.0 963.0 L496.0 969.0 L504.0 973.0 L512.0 979.0 L520.0 980.0 L532.0 983.0 L542.0 985.0 L550.0 986.0 L560.0 987.0 L570.0 986.0 L578.0 988.0 L590.0 990.0 L598.0 993.0 L610.0 988.0 L622.0 982.0 L630.0 976.0 L640.0 970.0 L650.0 965.0 L654.0 954.0 L658.0 941.0 L665.0 930.0 L670.0 920.0 L676.0 914.0 L682.0 904.0 L685.0 894.0 L686.0 880.0 L688.0 870.0 L691.0 860.0 L689.0 846.0 L690.0 830.0 L689.0 818.0 L685.0 806.0 L681.0 796.0 L677.0 789.0 L670.0 779.0 L662.0 769.0 L654.0 763.0 L646.0 759.0 L640.0 755.0 L634.0 750.0 L626.0 744.0 L616.0 739.0 L604.0 735.0 L590.0 734.0 L576.0 736.0 L564.0 737.4 L554.0 741.0 L550.0 743.0 Z" fill="#bce4f8" />
<path d="M504.0 763.0 L510.0 759.0 L518.0 760.0 L519.0 767.0 L512.0 771.0 L511.0 783.0 L506.0 783.0 L503.0 775.0 Z" fill="#bce4f8" />
<path d="M641.0 778.0 L648.0 775.0 L658.0 775.0 L666.0 779.0 L668.0 785.0 L654.0 785.4 L646.0 783.4 Z" fill="#7fbce6" />
<path d="M672.0 842.0 L678.0 838.0 L686.0 838.0 L689.0 846.0 L686.0 851.0 L680.0 850.0 L674.0 848.0 Z" fill="#7fbce6" />
<path d="M576.0 774.0 L564.0 779.0 L548.0 785.0 L542.0 793.0 L536.0 803.0 L533.0 815.0 L534.0 829.0 L535.0 843.0 L534.0 855.0 L540.0 861.0 L550.0 865.0 L551.0 897.0 L544.0 904.0 L537.0 908.0 L538.0 916.0 L543.0 924.0 L547.0 932.0 L560.0 936.0 L568.0 935.0 L574.0 942.0 L580.0 950.0 L586.0 958.0 L592.0 966.0 L598.0 967.0 L610.0 964.0 L622.0 960.0 L634.0 954.0 L642.0 946.0 L648.0 938.0 L652.0 928.0 L658.0 918.0 L662.0 908.0 L666.0 900.0 L667.0 890.0 L665.0 880.0 L666.0 866.0 L665.0 854.0 L662.0 844.0 L658.0 838.0 L650.0 834.0 L652.0 826.0 L654.0 818.0 L650.0 810.0 L646.0 802.0 L640.0 794.0 L630.0 785.0 L622.0 781.0 L614.0 779.0 L606.0 780.0 L598.0 778.0 L590.0 776.0 L580.0 774.0 Z" fill="#ffffff" />
</g>
<g fill="none" stroke="#b0b0b0" stroke-width="1.55"><ellipse cx="550.00" cy="866.00" rx="29.10" ry="28.47"/><ellipse cx="550.00" cy="866.00" rx="58.31" ry="57.04"/><ellipse cx="550.00" cy="866.00" rx="87.75" ry="85.84"/><ellipse cx="550.00" cy="866.00" rx="117.52" ry="114.97"/><ellipse cx="550.00" cy="866.00" rx="147.76" ry="144.54"/><ellipse cx="550.00" cy="866.00" rx="178.59" ry="174.70"/><path d="M550.00 659.75 L550.00 1072.25"/><path d="M368.67 968.41 L731.33 763.59"/><path d="M368.67 763.59 L731.33 968.41"/></g>
<g fill="none" stroke="#000" stroke-width="0.7" stroke-linejoin="round">
<path d="M540.0 758.7 L544.0 758.0 L548.0 760.0 L550.0 756.7 L553.3 755.3 L560.0 754.0 L566.7 753.3 L570.0 754.7 L572.7 757.3 L575.3 754.7 L578.7 754.0 L582.7 753.3 L584.7 755.3 L586.7 758.7 L589.3 761.3 L591.3 759.3 L592.7 762.0 L594.7 764.7 L596.0 762.0 L598.0 765.3 L600.0 768.0 L604.0 767.3 L609.3 768.0 L613.3 768.7 L616.7 767.3 L616.0 764.0 L618.7 763.3 L620.7 765.3 L620.0 768.7 L622.0 771.3 L624.0 774.7 L625.3 776.0 L628.7 773.3 L633.3 772.0 L638.0 773.3 L642.7 774.7 L647.3 776.0 L648.7 779.3 L651.3 780.0 L654.0 777.3 L656.7 780.0 L660.0 779.3 L663.3 781.3 L666.0 784.7 L666.7 788.7 L664.7 791.3 L662.0 792.7 L664.7 794.0 L665.3 798.7 L666.7 804.0 L668.0 809.3 L670.0 814.7 L672.0 818.7 L673.3 821.3 L670.0 823.3 L665.3 824.0 L661.3 825.3 L658.7 822.7 L658.0 825.3 L660.7 828.0 L662.0 831.3 L659.3 832.0 L656.0 832.7 L652.0 832.0 L648.7 830.7 L645.3 830.0 L642.0 829.3 L640.7 828.0 L644.0 827.3 L648.0 828.0 L652.0 828.7 L656.0 829.3 L659.3 830.0 L662.7 832.7 L664.7 835.3 L666.0 837.3 L670.0 839.3 L673.3 841.3 L676.7 843.3 L679.3 846.7 L682.0 850.7 L684.7 854.0 L686.0 857.3 L688.0 854.7 L688.7 858.0 L686.7 860.0 L687.3 865.3 L688.3 870.7 L688.0 876.0 L689.1 881.3 L687.3 886.0 L688.0 890.7 L690.0 894.7 L687.3 898.7 L684.7 902.7 L682.0 906.7 L679.3 910.0 L680.0 914.7 L682.0 916.0 L682.7 919.3 L680.0 922.7 L676.0 924.7 L673.3 922.7 L672.7 920.0 L671.3 924.0 L670.7 928.0 L668.0 930.7 L666.0 934.0 L665.3 938.7 L664.0 942.7 L662.0 947.3 L658.7 949.3 L656.0 952.0 L655.3 956.0 L653.3 960.0 L653.3 960.3 L650.0 962.3 L648.0 965.7 L644.0 968.3 L638.7 971.0 L633.3 973.0 L628.7 974.3 L628.0 970.3 L625.3 971.0 L621.3 973.0 L617.3 972.3 L613.3 974.3 L610.0 973.7 L606.7 976.3 L605.3 978.3 L601.3 976.3 L596.0 977.0 L592.0 977.0 L588.0 975.0 L586.7 972.3 L584.7 970.3 L584.0 973.7 L580.0 974.3 L575.3 974.3 L572.0 973.7 L568.7 972.3 L567.3 969.7 L568.0 965.7 L569.3 962.3 L568.0 959.0 L570.7 960.3 L573.3 963.0 L575.3 960.3 L574.7 956.3 L576.7 953.7 L576.0 949.7 L578.0 946.3 L576.0 945.7 L574.0 943.0 L572.7 939.0 L570.7 936.3 L568.7 933.7 L566.7 937.0 L564.0 937.7 L565.3 935.7 L566.7 933.7 L564.7 931.0 L566.7 929.0 L570.0 928.3 L571.3 925.7 L570.7 921.7 L570.0 917.7 L568.7 915.0 L566.7 912.3 L564.7 909.7 L564.0 907.0 L561.3 907.7 L558.7 904.3 L554.7 901.7 L550.5 899.7 L546.7 897.0 L542.7 894.3 L538.7 891.7 L541.3 895.0 L540.7 897.7 L542.7 901.7 L545.3 907.0 L544.0 905.7 L542.0 902.3 L540.0 899.7 L536.7 901.0 L532.7 902.3 L528.7 904.3 L527.3 908.3 L524.7 911.7 L521.3 911.0 L519.3 914.3 L521.3 917.7 L520.0 921.7 L522.0 925.7 L524.0 929.7 L522.7 933.7 L520.0 934.3 L517.3 931.0 L514.7 928.3 L512.0 926.3 L508.0 928.3 L504.0 931.7 L500.0 933.7 L499.0 932.0 L493.7 930.7 L488.3 928.7 L483.0 925.3 L479.0 920.0 L476.3 914.7 L473.7 909.3 L471.0 904.0 L469.0 898.7 L467.7 893.3 L465.7 888.0 L464.3 884.7 L465.7 882.0 L465.0 879.3 L461.7 880.0 L459.0 884.0 L456.3 888.0 L453.7 885.3 L452.3 881.3 L451.0 876.0 L449.7 870.7 L448.3 866.7 L451.0 861.3 L452.3 856.0 L453.7 850.7 L455.0 845.3 L457.0 841.3 L457.7 834.7 L456.3 828.0 L452.3 825.3 L445.7 824.0 L439.0 825.3 L435.0 829.3 L433.0 826.7 L432.3 822.7 L430.3 818.7 L427.0 817.3 L424.3 814.7 L421.7 810.7 L419.0 806.7 L416.3 801.3 L415.0 796.0 L416.3 790.7 L415.0 785.3 L417.0 781.3 L418.7 786.7 L420.3 793.3 L423.7 798.7 L426.3 804.0 L427.7 809.3 L431.0 813.3 L435.0 812.7 L439.0 811.3 L443.0 813.3 L447.0 815.3 L451.0 817.3 L455.7 818.7 L460.3 820.0 L464.3 822.0 L467.7 824.0 L471.0 826.0 L473.0 828.7 L474.3 832.0 L475.7 836.0 L475.0 841.3 L473.7 845.3 L475.0 848.7 L477.7 846.7 L480.3 844.0 L482.3 846.0 L480.3 848.7 L478.3 852.0 L480.3 854.0 L482.3 850.7 L484.3 848.0 L487.0 848.7 L489.0 852.0 L487.0 855.3 L482.3 856.7 L480.3 859.3 L484.3 858.7 L488.3 859.3 L490.3 856.0 L493.0 855.3 L494.3 852.7 L497.7 852.0 L500.3 848.7 L503.0 847.3 L505.7 845.3 L508.3 843.3 L511.0 845.3 L514.3 847.3 L516.3 845.3 L514.3 842.0 L514.1 838.0 L515.7 834.0 L518.3 830.7 L517.4 826.7 L517.0 822.0 L518.3 818.0 L521.0 815.3 L525.0 812.7 L521.7 813.3 L517.7 814.7 L514.3 816.0 L512.3 814.0 L509.7 811.3 L508.6 806.7 L509.4 801.3 L511.0 796.7 L513.7 792.7 L517.7 788.7 L521.0 786.0 L522.3 782.0 L523.0 777.3 L525.0 774.7 L523.0 771.3 L523.7 768.0 L527.0 766.0 L526.3 763.3 L528.3 760.0 L528.0 763.0 L530.0 758.0 L533.0 759.0 L535.0 755.0 L538.0 757.0 L542.0 754.0 Z"/>
<path d="M498.3 818.0 L501.7 817.1 L505.7 818.7 L508.3 822.0 L510.3 826.7 L509.0 831.3 L506.3 834.7 L504.3 832.0 L503.7 828.0 L501.7 825.3 L499.0 822.7 L497.7 820.0 Z"/>
<path d="M487.7 840.7 L491.0 843.3 L495.0 842.7 L500.3 840.0 L501.7 841.3 L497.7 844.7 L492.3 846.7 L489.0 844.7 Z"/>
<path d="M529.0 921.3 L531.0 920.0 L533.4 924.7 L531.0 927.3 L529.0 925.3 Z"/>
<path d="M441.0 830.0 L445.7 828.0 L451.0 829.3 L453.7 832.7 L452.3 836.7 L448.3 838.7 L443.7 839.3 L441.0 836.0 Z"/>
<path d="M440.3 834.7 L441.7 838.7 L441.0 841.3 L439.7 838.7 Z"/>
<path d="M445.0 832.7 L448.3 831.3 L450.3 834.0 L447.7 836.0 L445.4 835.3 Z"/>
<path d="M453.7 840.0 L455.7 839.3 L457.0 842.0 L455.0 844.0 L453.7 842.7 Z"/>
<path d="M416.3 778.0 L419.7 777.3 L422.3 781.3 L423.0 786.0 L421.0 788.7 L418.3 786.7 L417.0 782.7 Z"/>
<path d="M413.7 792.7 L416.3 792.0 L417.7 797.3 L417.0 802.0 L414.7 802.7 L413.7 798.0 Z"/>
<path d="M422.3 814.0 L425.7 813.1 L428.3 816.0 L427.0 819.3 L423.7 818.7 Z"/>
<path d="M408.3 779.3 L409.1 780.0 L408.6 784.7 L407.9 784.0 Z"/>
<path d="M407.7 787.3 L408.6 788.0 L408.1 793.3 L407.4 792.7 Z"/>
<path d="M409.0 768.0 L410.3 767.3 L409.9 770.0 Z"/>
<path d="M444.3 877.3 L446.3 876.0 L448.3 880.0 L447.7 885.3 L445.7 886.7 L444.3 882.7 Z"/>
<path d="M463.7 897.3 L465.7 896.0 L467.7 901.3 L469.7 906.7 L468.3 908.0 L465.7 902.7 Z"/>
<path d="M469.0 910.7 L471.0 910.0 L473.7 916.0 L474.3 922.0 L472.3 924.0 L470.7 918.7 Z"/>
<path d="M480.3 924.7 L482.3 924.0 L483.0 926.7 L481.0 926.9 Z"/>
<path d="M506.3 927.3 L509.7 926.0 L513.0 928.0 L511.0 932.0 L507.7 931.3 Z"/>
<path d="M528.7 921.7 L531.3 921.0 L533.1 925.0 L532.0 927.7 L530.0 927.0 L528.7 924.3 Z"/>
<path d="M532.3 908.6 L533.3 909.0 L532.9 909.9 Z"/>
<path d="M534.3 912.6 L535.3 913.0 L534.9 913.9 Z"/>
<path d="M585.1 991.8 L586.1 992.3 L585.6 993.1 Z"/>
<path d="M589.1 993.9 L590.1 994.5 L589.6 995.3 Z"/>
<path d="M591.5 995.8 L592.5 996.3 L592.0 997.1 Z"/>
<path d="M692.8 871.5 L693.9 872.0 L693.3 872.8 Z"/>
<path d="M690.1 881.5 L691.2 882.0 L690.7 882.8 Z"/>
<path d="M691.1 891.3 L692.7 890.7 L693.6 892.3 L692.3 893.3 Z"/>
<path d="M692.1 898.1 L693.2 898.7 L692.7 899.5 Z"/>
<path d="M515.7 779.3 L517.7 778.7 L518.3 782.0 L516.3 782.0 Z"/>
</g>
<circle cx="550.50" cy="866.25" r="2.6" fill="#fff"/>
</g>
<circle cx="550.50" cy="866.25" r="206.25" fill="none" stroke="#000" stroke-width="1.75"/>
<text x="344.25" y="647.50" font-size="18.75">GPCP v2.3 (1979-2017)</text>
<text x="756.75" y="647.50" font-size="18.75" text-anchor="end">mm/day</text>
<text x="791.3" y="657.25" font-size="18.75" letter-spacing="-0.3">Max</text><text x="917.4" y="657.25" font-size="18.75" text-anchor="end" letter-spacing="-0.3">3.78</text><text x="791.3" y="679.05" font-size="18.75" letter-spacing="-0.3">Mean</text><text x="917.4" y="679.05" font-size="18.75" text-anchor="end" letter-spacing="-0.3">1.67</text><text x="791.3" y="700.85" font-size="18.75" letter-spacing="-0.3">Min</text><text x="917.4" y="700.85" font-size="18.75" text-anchor="end" letter-spacing="-0.3">0.04</text>
<path d="M790.50 756.59 L790.50 731.85 L811.29 718.41 L832.07 731.85 L832.07 756.59 Z" fill="#92141b"/><rect x="790.50" y="756.29" width="41.57" height="24.74" fill="#c01c24"/><rect x="790.50" y="780.72" width="41.57" height="24.74" fill="#e24228"/><rect x="790.50" y="805.16" width="41.57" height="24.74" fill="#f67c30"/><rect x="790.50" y="829.60" width="41.57" height="24.74" fill="#f8d150"/><rect x="790.50" y="854.03" width="41.57" height="24.74" fill="#a0ce4f"/><rect x="790.50" y="878.47" width="41.57" height="24.74" fill="#4aac5f"/><rect x="790.50" y="902.90" width="41.57" height="24.74" fill="#4a90c0"/><rect x="790.50" y="927.34" width="41.57" height="24.74" fill="#7fbce6"/><rect x="790.50" y="951.78" width="41.57" height="24.74" fill="#bce4f8"/><path d="M790.50 976.21 L790.50 1000.65 L811.29 1014.09 L832.07 1000.65 L832.07 976.21 Z" fill="#ffffff"/><path d="M790.50 731.85 L811.29 718.41 L832.07 731.85 L832.07 1000.65 L811.29 1014.09 L790.50 1000.65 Z" fill="none" stroke="#000" stroke-width="1.67" stroke-linejoin="miter"/><text x="884.5" y="763.69" font-size="18.75" text-anchor="end">5.00</text><text x="884.5" y="788.12" font-size="18.75" text-anchor="end">4.50</text><text x="884.5" y="812.56" font-size="18.75" text-anchor="end">4.00</text><text x="884.5" y="837.00" font-size="18.75" text-anchor="end">3.50</text><text x="884.5" y="861.43" font-size="18.75" text-anchor="end">3.00</text><text x="884.5" y="885.87" font-size="18.75" text-anchor="end">2.50</text><text x="884.5" y="910.30" font-size="18.75" text-anchor="end">2.00</text><text x="884.5" y="934.74" font-size="18.75" text-anchor="end">1.50</text><text x="884.5" y="959.18" font-size="18.75" text-anchor="end">1.00</text><text x="884.5" y="983.61" font-size="18.75" text-anchor="end">0.50</text>
<g clip-path="url(#c2)">
<g clip-path="url(#d2)">
<rect x="340" y="1151.0" width="422" height="422" fill="#f5f5f4"/>
<path d="M462.0 1234.0 L470.0 1228.0 L480.0 1224.0 L490.0 1220.0 L500.0 1214.0 L510.0 1214.0 L514.0 1220.0 L520.0 1227.0 L530.0 1224.0 L540.0 1218.0 L550.0 1212.0 L562.0 1209.0 L576.0 1210.0 L590.0 1212.0 L602.0 1214.0 L614.0 1218.0 L626.0 1224.0 L638.0 1230.0 L650.0 1234.0 L662.0 1240.0 L672.0 1246.0 L682.0 1254.0 L690.0 1262.0 L696.0 1270.0 L700.0 1282.0 L702.0 1294.0 L705.0 1306.0 L708.0 1318.0 L710.0 1330.0 L712.0 1342.0 L714.0 1354.0 L715.0 1366.0 L716.0 1380.0 L715.0 1394.0 L712.0 1408.0 L708.0 1422.0 L702.0 1436.0 L696.0 1446.0 L690.0 1454.0 L682.0 1462.0 L674.0 1470.0 L666.0 1477.0 L658.0 1483.0 L650.0 1489.0 L640.0 1495.0 L630.0 1500.0 L618.0 1503.0 L606.0 1505.0 L590.0 1507.0 L570.0 1509.0 L550.0 1510.0 L536.0 1509.0 L520.0 1507.0 L512.0 1503.0 L500.0 1499.0 L492.0 1495.0 L480.0 1491.0 L468.0 1489.0 L460.0 1483.0 L452.0 1475.0 L444.0 1469.0 L438.0 1461.0 L438.0 1449.0 L444.0 1443.0 L452.0 1445.0 L460.0 1449.0 L464.0 1457.0 L470.0 1465.0 L480.0 1471.0 L486.0 1477.0 L500.0 1475.0 L512.0 1471.0 L524.0 1469.0 L536.0 1471.0 L550.0 1467.0 L560.0 1471.0 L568.0 1467.0 L576.0 1465.0 L584.0 1457.0 L594.0 1453.0 L606.0 1451.0 L618.0 1447.0 L630.0 1447.0 L638.0 1445.0 L646.0 1437.0 L654.0 1429.0 L660.0 1421.0 L664.0 1413.0 L668.0 1405.0 L672.0 1397.0 L676.0 1391.0 L680.0 1385.0 L682.0 1377.0 L684.0 1369.0 L686.0 1363.0 L685.6 1357.0 L686.0 1350.0 L684.0 1336.0 L680.0 1326.0 L674.0 1318.0 L672.0 1310.0 L668.0 1300.0 L662.0 1294.0 L658.0 1288.0 L654.0 1280.0 L648.0 1274.0 L638.0 1270.0 L630.0 1268.0 L624.0 1270.0 L618.0 1264.0 L610.0 1258.0 L604.0 1254.0 L590.0 1248.0 L576.0 1244.0 L562.0 1244.0 L550.0 1245.0 L540.0 1246.0 L530.0 1248.0 L524.0 1252.0 L518.0 1256.0 L512.0 1254.0 L511.0 1244.0 L512.0 1230.0 L506.0 1222.0 L496.0 1224.0 L486.0 1230.0 L480.0 1238.0 L468.0 1238.0 Z" fill="#d0ece8" />
<path d="M359.0 1278.0 L370.0 1285.0 L372.0 1295.0 L370.0 1305.0 L366.0 1311.0 L362.0 1317.0 L360.0 1329.0 L362.0 1339.0 L366.0 1349.0 L366.0 1361.0 L360.0 1373.0 L358.0 1385.0 L356.0 1397.0 L355.0 1411.0 L356.0 1425.0 L358.0 1437.0 L360.0 1445.0 L340.0 1445.0 L340.0 1278.0 Z" fill="#d0ece8" />
<path d="M348.0 1331.0 L354.0 1333.0 L358.0 1341.0 L359.0 1353.0 L356.0 1365.0 L353.0 1377.0 L352.0 1393.0 L351.0 1405.0 L352.0 1417.0 L354.0 1425.0 L340.0 1425.0 L340.0 1331.0 Z" fill="#98d7cd" />
<path d="M357.0 1281.0 L368.0 1285.0 L370.0 1293.0 L368.0 1301.0 L362.0 1305.0 L356.0 1307.4 L348.0 1307.4 L348.0 1281.0 Z" fill="#98d7cd" />
<path d="M358.4 1284.0 L367.0 1288.0 L368.0 1295.0 L365.0 1300.0 L358.0 1303.4 L350.0 1303.4 L350.0 1284.0 Z" fill="#5bb3a8" />
<path d="M359.6 1287.4 L365.0 1290.0 L365.6 1296.0 L360.0 1299.4 L352.0 1299.4 L352.0 1287.4 Z" fill="#258880" />
<path d="M408.0 1301.0 L416.0 1303.0 L424.0 1307.0 L432.0 1313.0 L435.0 1321.0 L434.0 1331.0 L428.0 1333.0 L420.0 1331.0 L414.0 1325.0 L410.0 1315.0 L407.0 1307.0 Z" fill="#d0ece8" />
<path d="M413.0 1307.0 L424.0 1311.0 L431.0 1317.0 L431.0 1327.0 L424.0 1329.0 L417.0 1324.0 L414.0 1315.0 Z" fill="#98d7cd" />
<path d="M434.0 1345.0 L444.0 1341.0 L454.0 1343.0 L460.0 1349.0 L462.0 1361.0 L460.0 1373.0 L464.0 1383.0 L468.0 1393.0 L472.0 1403.0 L478.0 1411.0 L484.0 1419.0 L482.0 1425.0 L472.0 1427.0 L464.0 1425.0 L456.0 1421.0 L448.0 1415.0 L440.0 1405.0 L436.0 1395.0 L434.0 1385.0 L428.0 1377.0 L426.0 1365.0 L429.0 1353.0 Z" fill="#d0ece8" />
<path d="M436.0 1349.0 L446.0 1345.0 L458.0 1349.0 L460.0 1359.0 L458.0 1369.0 L452.0 1375.0 L444.0 1377.0 L438.0 1373.0 L435.0 1363.0 Z" fill="#98d7cd" />
<path d="M442.0 1353.0 L448.0 1347.0 L456.0 1349.0 L459.0 1357.0 L457.0 1365.0 L452.0 1367.0 L446.0 1365.0 L442.0 1359.0 Z" fill="#5bb3a8" />
<path d="M450.0 1350.0 L456.0 1351.0 L458.0 1359.0 L455.0 1363.0 L451.0 1359.0 Z" fill="#258880" />
<path d="M556.0 1481.0 L558.3 1477.1 L561.8 1471.9 L565.2 1471.9 L570.4 1472.8 L578.0 1468.0 L584.0 1464.5 L588.0 1461.5 L594.0 1459.5 L606.0 1457.0 L618.0 1452.0 L630.0 1449.0 L638.0 1446.0 L648.0 1437.0 L656.0 1429.0 L662.0 1421.0 L666.0 1413.0 L672.0 1403.0 L676.0 1395.0 L682.0 1387.0 L686.0 1379.0 L690.0 1369.0 L696.0 1363.0 L704.0 1359.0 L710.0 1365.0 L712.0 1375.0 L714.0 1389.0 L712.0 1405.0 L708.0 1419.0 L702.0 1433.0 L694.0 1445.0 L686.0 1457.0 L676.0 1467.0 L666.0 1477.0 L654.0 1485.0 L642.0 1491.0 L630.0 1497.0 L618.0 1500.0 L602.0 1501.0 L586.0 1502.0 L570.0 1501.0 L558.0 1500.0 L542.0 1499.0 L528.0 1498.0 L526.0 1495.0 L540.0 1494.0 L550.0 1493.0 L553.0 1487.0 Z" fill="#98d7cd" />
<path d="M576.0 1481.0 L580.0 1473.0 L590.0 1467.0 L604.0 1463.0 L618.0 1459.0 L630.0 1455.0 L640.0 1449.0 L650.0 1441.0 L658.0 1431.0 L664.0 1423.0 L668.0 1415.0 L674.0 1405.0 L678.0 1397.0 L684.0 1389.0 L690.0 1381.0 L696.0 1373.0 L702.0 1369.0 L707.0 1373.0 L708.0 1385.0 L707.0 1401.0 L704.0 1415.0 L698.0 1429.0 L690.0 1443.0 L682.0 1455.0 L672.0 1465.0 L662.0 1475.0 L650.0 1482.0 L638.0 1487.0 L624.0 1491.0 L610.0 1493.0 L598.0 1493.0 L588.0 1491.0 L580.0 1487.0 Z" fill="#5bb3a8" />
<path d="M584.2 1478.8 L587.7 1475.0 L592.8 1473.0 L599.7 1471.0 L604.9 1470.5 L613.5 1467.5 L619.8 1465.4 L628.5 1462.0 L638.0 1457.7 L646.6 1451.6 L653.5 1444.7 L660.4 1436.9 L664.7 1431.8 L667.3 1424.9 L671.6 1418.0 L675.1 1412.8 L679.4 1405.9 L681.1 1397.3 L686.3 1393.8 L694.9 1392.1 L703.5 1391.2 L703.5 1392.1 L702.7 1405.9 L697.5 1418.8 L691.5 1428.3 L686.3 1435.2 L677.7 1439.5 L675.9 1449.0 L674.2 1457.7 L669.0 1466.3 L660.4 1474.9 L651.8 1480.9 L634.5 1486.1 L617.3 1491.3 L600.0 1493.0 L598.0 1490.0 L590.0 1486.0 Z" fill="#258880" />
<path d="M623.3 1477.5 L628.5 1471.5 L637.1 1466.3 L648.3 1462.0 L655.2 1455.1 L656.1 1445.6 L660.4 1442.1 L664.7 1439.5 L667.3 1443.8 L665.6 1449.0 L660.4 1455.9 L655.2 1462.8 L648.3 1468.0 L639.7 1473.2 L630.2 1477.5 L624.2 1478.4 Z" fill="#016058" />
<path d="M618.0 1240.0 L630.0 1238.0 L642.0 1240.0 L654.0 1244.0 L666.0 1250.0 L676.0 1256.0 L686.0 1264.0 L692.0 1274.0 L696.0 1286.0 L696.0 1300.0 L692.0 1308.0 L684.0 1312.0 L680.0 1308.0 L676.0 1300.0 L670.0 1294.0 L664.0 1290.0 L658.0 1284.0 L654.0 1276.0 L648.0 1270.0 L640.0 1264.0 L632.0 1256.0 L624.0 1250.0 L619.0 1244.0 Z" fill="#98d7cd" />
<path d="M638.0 1254.0 L646.0 1252.0 L656.0 1253.0 L666.0 1258.0 L676.0 1264.0 L684.0 1270.0 L688.0 1278.0 L688.0 1286.0 L682.0 1290.0 L674.0 1290.0 L668.0 1286.0 L664.0 1280.0 L658.0 1274.0 L650.0 1266.0 L642.0 1260.0 Z" fill="#5bb3a8" />
<path d="M668.0 1266.0 L670.0 1261.0 L678.0 1266.0 L684.0 1274.0 L685.0 1283.0 L680.0 1288.0 L672.0 1286.0 L668.0 1278.0 Z" fill="#258880" />
<path d="M648.0 1262.0 L656.0 1262.0 L654.0 1268.0 L649.0 1267.0 Z" fill="#258880" />
<path d="M576.0 1165.0 L570.0 1170.0 L560.0 1170.0 L550.0 1167.0 L540.0 1166.0 L530.0 1170.0 L520.0 1172.0 L510.0 1173.0 L500.0 1172.0 L498.0 1182.0 L492.0 1192.0 L480.0 1198.0 L468.0 1202.0 L456.0 1208.0 L448.0 1214.0 L440.0 1220.0 L432.0 1228.0 L424.0 1238.0 L420.0 1248.0 L424.0 1258.0 L428.0 1270.0 L436.0 1274.0 L448.0 1272.0 L460.0 1270.0 L468.0 1268.0 L480.0 1268.0 L492.0 1270.0 L498.0 1278.0 L504.0 1290.0 L508.0 1298.0 L512.0 1290.0 L516.0 1280.0 L520.0 1272.0 L526.0 1266.0 L524.0 1261.0 L530.0 1258.0 L540.0 1256.0 L550.0 1256.0 L562.0 1258.0 L576.0 1262.0 L590.0 1266.0 L600.0 1268.0 L606.0 1267.0 L604.0 1270.0 L590.0 1270.0 L576.0 1269.0 L564.0 1270.0 L554.0 1274.0 L546.0 1280.0 L542.0 1288.0 L538.0 1296.0 L536.0 1308.0 L536.0 1322.0 L537.0 1334.0 L540.0 1342.0 L544.0 1350.0 L550.0 1354.0 L556.0 1362.0 L558.0 1370.0 L557.0 1376.0 L550.0 1382.0 L544.0 1386.0 L538.0 1390.0 L530.0 1398.0 L522.0 1408.0 L520.0 1418.0 L516.0 1430.0 L510.0 1434.0 L500.0 1425.0 L492.0 1421.0 L484.0 1415.0 L480.0 1405.0 L478.0 1395.0 L480.0 1385.0 L476.0 1377.0 L468.0 1369.0 L464.0 1357.0 L468.0 1345.0 L470.0 1333.0 L466.0 1325.0 L460.0 1321.0 L454.0 1319.0 L448.0 1321.0 L444.0 1315.0 L448.0 1311.0 L444.0 1305.0 L436.0 1295.0 L428.0 1285.0 L420.0 1279.0 L412.0 1281.0 L406.0 1285.0 L398.0 1283.0 L392.0 1285.0 L386.0 1291.0 L383.0 1301.0 L384.0 1311.0 L383.0 1317.0 L378.0 1311.0 L374.0 1301.0 L372.0 1291.0 L370.0 1285.0 L367.0 1279.0 L362.0 1277.0 L335.0 1270.0 L335.0 1140.0 L580.0 1140.0 Z" fill="#f6eacb" />
<path d="M462.0 1182.0 L480.0 1177.0 L494.0 1174.0 L500.0 1177.0 L496.0 1187.0 L484.0 1193.0 L468.0 1197.0 L454.0 1202.0 L444.0 1210.0 L436.0 1219.0 L428.0 1227.0 L420.0 1236.0 L417.0 1246.0 L417.0 1256.0 L421.0 1266.0 L428.0 1274.0 L436.0 1280.0 L436.0 1288.0 L428.0 1289.0 L420.0 1283.0 L412.0 1278.0 L400.0 1281.0 L390.0 1283.0 L380.0 1279.0 L370.0 1276.0 L365.0 1272.0 L340.0 1260.0 L340.0 1150.0 L450.0 1150.0 Z" fill="#e7cf94" />
<path d="M448.0 1191.0 L440.0 1198.0 L434.0 1206.0 L428.0 1214.0 L427.0 1224.0 L424.0 1230.0 L416.0 1236.0 L412.0 1244.0 L408.0 1250.0 L410.0 1258.0 L414.0 1266.0 L420.0 1270.0 L422.0 1278.0 L416.0 1280.0 L408.0 1276.0 L400.0 1278.0 L390.0 1281.0 L380.0 1278.0 L372.0 1274.0 L367.0 1270.0 L340.0 1262.0 L340.0 1160.0 L440.0 1160.0 Z" fill="#cea053" />
<path d="M373.0 1259.0 L380.0 1252.0 L390.0 1254.0 L398.0 1262.0 L394.0 1268.0 L386.0 1272.4 L378.0 1275.4 L370.0 1274.4 L367.0 1271.0 L350.0 1266.0 Z" fill="#ad7021" />
<path d="M446.0 1286.0 L452.0 1283.0 L464.0 1284.0 L476.0 1283.0 L484.0 1288.0 L490.0 1294.0 L498.0 1302.0 L506.0 1310.0 L512.0 1308.0 L518.0 1302.0 L522.0 1306.0 L520.0 1312.0 L516.0 1316.0 L512.0 1322.0 L514.0 1330.0 L516.0 1338.0 L512.0 1342.0 L504.0 1340.0 L498.0 1336.0 L492.0 1342.0 L484.0 1344.0 L480.0 1340.0 L476.0 1334.0 L470.0 1328.0 L468.0 1320.0 L460.0 1318.0 L452.0 1316.0 L446.0 1314.0 L448.0 1310.0 L456.0 1308.0 L464.0 1308.0 L462.0 1300.0 L456.0 1294.0 L448.0 1290.0 Z" fill="#e7cf94" />
<path d="M449.0 1317.0 L460.0 1316.0 L468.0 1320.0 L464.0 1323.0 L454.0 1322.0 Z" fill="#cea053" />
<path d="M471.0 1336.0 L475.0 1336.0 L475.0 1340.0 L471.0 1340.0 Z" fill="#cea053" />
<path d="M469.0 1360.0 L480.0 1358.0 L492.0 1360.0 L504.0 1364.0 L506.0 1370.0 L516.0 1376.0 L518.0 1384.0 L516.0 1390.0 L512.0 1400.0 L516.0 1408.0 L518.0 1416.0 L514.0 1424.0 L506.0 1426.0 L498.0 1424.0 L490.0 1416.0 L486.0 1406.0 L484.0 1396.0 L486.0 1386.0 L488.0 1376.0 L480.0 1370.0 L470.0 1368.0 Z" fill="#e7cf94" />
<path d="M491.0 1390.0 L500.0 1392.0 L506.0 1400.0 L510.0 1408.0 L508.0 1414.0 L498.0 1412.0 L494.0 1404.0 L491.0 1398.0 Z" fill="#cea053" />
<path d="M530.0 1374.0 L540.0 1368.0 L542.0 1372.0 L534.0 1380.0 Z" fill="#e7cf94" />
<path d="M526.0 1270.0 L534.0 1264.0 L548.0 1265.0 L547.0 1270.0 L540.0 1274.0 L530.0 1278.0 Z" fill="#e7cf94" />
<path d="M512.0 1302.0 L520.0 1298.0 L524.0 1304.0 L520.0 1310.0 L513.0 1309.0 Z" fill="#e7cf94" />
<path d="M510.0 1322.0 L518.0 1324.0 L520.0 1334.0 L516.0 1342.0 L510.0 1340.0 Z" fill="#e7cf94" />
<path d="M380.0 1379.0 L383.0 1393.0 L392.0 1401.0 L402.0 1407.0 L408.0 1419.0 L414.0 1431.0 L420.0 1443.0 L423.0 1455.0 L424.0 1465.0 L428.0 1475.0 L434.0 1489.0 L436.0 1501.0 L436.0 1515.0 L440.0 1523.0 L452.0 1521.0 L464.0 1519.0 L480.0 1517.0 L496.0 1521.0 L510.0 1523.0 L518.6 1522.0 L527.3 1524.6 L535.9 1527.1 L544.5 1528.0 L551.4 1528.9 L554.9 1529.7 L556.6 1533.2 L558.3 1537.5 L560.0 1541.8 L560.9 1543.5 L558.3 1541.0 L553.1 1541.8 L547.1 1542.7 L544.5 1545.3 L541.1 1549.6 L535.9 1553.9 L527.3 1556.5 L518.6 1556.5 L510.0 1555.6 L500.0 1551.0 L488.0 1549.0 L476.0 1545.0 L468.0 1543.0 L460.0 1545.0 L452.0 1545.0 L420.0 1533.0 L416.0 1515.0 L420.0 1513.0 L416.0 1501.0 L410.0 1489.0 L400.0 1477.0 L392.0 1465.0 L386.0 1455.0 L380.0 1445.0 L376.0 1435.0 L374.0 1425.0 L370.0 1415.0 L370.0 1401.0 L374.0 1393.0 L378.0 1385.0 Z" fill="#f6eacb" />
<path d="M565.2 1531.0 L570.4 1527.1 L579.0 1523.7 L587.7 1521.1 L596.3 1519.4 L604.9 1519.4 L613.5 1520.2 L620.0 1521.1 L630.0 1521.0 L638.0 1525.0 L638.0 1533.0 L630.0 1541.0 L620.0 1549.6 L613.5 1550.4 L604.9 1549.6 L596.3 1548.7 L587.7 1547.9 L579.0 1546.1 L570.4 1544.4 L563.9 1541.8 L564.4 1537.5 Z" fill="#f6eacb" />
<path d="M386.0 1425.0 L392.0 1421.0 L402.0 1423.0 L408.0 1431.0 L414.0 1443.0 L418.0 1453.0 L419.0 1465.0 L422.0 1475.0 L428.0 1485.0 L433.0 1497.0 L434.0 1511.0 L434.0 1523.0 L428.0 1521.0 L422.0 1513.0 L420.0 1503.0 L414.0 1491.0 L406.0 1479.0 L398.0 1469.0 L390.0 1457.0 L384.0 1447.0 L381.0 1437.0 Z" fill="#e7cf94" />
<path d="M400.0 1447.0 L404.0 1446.0 L409.0 1453.0 L407.0 1457.0 L402.0 1453.0 Z" fill="#cea053" />
<path d="M466.0 1527.0 L480.0 1524.0 L496.0 1525.0 L508.0 1531.0 L514.0 1539.0 L508.0 1545.0 L496.0 1549.0 L484.0 1545.0 L472.0 1539.0 L466.0 1533.0 Z" fill="#e7cf94" />
<path d="M480.0 1532.0 L488.0 1531.0 L496.0 1535.0 L490.0 1538.0 L484.0 1536.0 Z" fill="#cea053" />
<path d="M590.0 1535.0 L600.0 1531.0 L614.0 1529.0 L621.0 1531.0 L618.0 1537.0 L606.0 1541.0 L594.0 1541.0 Z" fill="#e7cf94" />
<path d="M664.0 1200.0 L670.0 1200.0 L680.0 1208.0 L690.0 1216.0 L700.0 1228.0 L702.0 1234.0 L710.0 1244.0 L720.0 1256.0 L728.0 1266.0 L730.0 1278.0 L728.0 1290.0 L722.0 1294.0 L716.0 1290.0 L714.0 1280.0 L710.0 1270.0 L702.0 1258.0 L694.0 1246.0 L686.0 1234.0 L676.0 1224.0 L668.0 1216.0 L664.0 1208.0 Z" fill="#f6eacb" />
<path d="M638.0 1194.0 L644.0 1193.0 L650.0 1204.0 L640.0 1200.0 Z" fill="#f6eacb" />
<path d="M734.0 1339.0 L742.0 1338.0 L746.0 1349.0 L745.0 1365.0 L746.0 1385.0 L744.0 1405.0 L740.0 1421.0 L734.0 1433.0 L726.0 1445.0 L720.0 1455.0 L710.0 1463.0 L700.0 1467.0 L690.0 1477.0 L684.0 1489.0 L674.0 1503.0 L668.0 1513.0 L654.0 1519.0 L642.0 1519.0 L640.0 1507.0 L646.0 1497.0 L658.0 1489.0 L670.0 1487.0 L680.0 1481.0 L688.0 1471.0 L694.0 1457.0 L702.0 1449.0 L714.0 1445.0 L720.0 1435.0 L726.0 1421.0 L730.0 1405.0 L728.0 1385.0 L727.0 1365.0 L730.0 1349.0 Z" fill="#f6eacb" />
<path d="M648.0 1499.0 L658.0 1493.0 L670.0 1491.0 L680.0 1485.0 L688.0 1475.0 L696.0 1467.0 L702.0 1467.0 L696.0 1477.0 L690.0 1489.0 L682.0 1501.0 L670.0 1513.0 L658.0 1516.0 L650.0 1513.0 L647.0 1505.0 Z" fill="#e7cf94" />
<path d="M657.0 1503.0 L668.0 1498.0 L674.0 1499.0 L670.0 1507.0 L662.0 1511.0 L657.0 1510.0 Z" fill="#cea053" />
<path d="M638.0 1322.0 L650.0 1320.0 L660.0 1324.0 L658.0 1330.0 L646.0 1330.0 L638.0 1326.0 Z" fill="#f6eacb" />
<path d="M668.0 1338.0 L674.0 1336.0 L677.0 1344.0 L674.0 1350.0 L669.0 1346.0 Z" fill="#f6eacb" />
</g>
<g fill="none" stroke="#b0b0b0" stroke-width="1.55"><ellipse cx="550.00" cy="1361.00" rx="29.10" ry="28.47"/><ellipse cx="550.00" cy="1361.00" rx="58.31" ry="57.04"/><ellipse cx="550.00" cy="1361.00" rx="87.75" ry="85.84"/><ellipse cx="550.00" cy="1361.00" rx="117.52" ry="114.97"/><ellipse cx="550.00" cy="1361.00" rx="147.76" ry="144.54"/><ellipse cx="550.00" cy="1361.00" rx="178.59" ry="174.70"/><path d="M550.00 1154.75 L550.00 1567.25"/><path d="M368.67 1463.41 L731.33 1258.59"/><path d="M368.67 1258.59 L731.33 1463.41"/></g>
<g fill="none" stroke="#000" stroke-width="0.7" stroke-linejoin="round">
<path d="M540.0 1253.7 L544.0 1253.0 L548.0 1255.0 L550.0 1251.7 L553.3 1250.3 L560.0 1249.0 L566.7 1248.3 L570.0 1249.7 L572.7 1252.3 L575.3 1249.7 L578.7 1249.0 L582.7 1248.3 L584.7 1250.3 L586.7 1253.7 L589.3 1256.3 L591.3 1254.3 L592.7 1257.0 L594.7 1259.7 L596.0 1257.0 L598.0 1260.3 L600.0 1263.0 L604.0 1262.3 L609.3 1263.0 L613.3 1263.7 L616.7 1262.3 L616.0 1259.0 L618.7 1258.3 L620.7 1260.3 L620.0 1263.7 L622.0 1266.3 L624.0 1269.7 L625.3 1271.0 L628.7 1268.3 L633.3 1267.0 L638.0 1268.3 L642.7 1269.7 L647.3 1271.0 L648.7 1274.3 L651.3 1275.0 L654.0 1272.3 L656.7 1275.0 L660.0 1274.3 L663.3 1276.3 L666.0 1279.7 L666.7 1283.7 L664.7 1286.3 L662.0 1287.7 L664.7 1289.0 L665.3 1293.7 L666.7 1299.0 L668.0 1304.3 L670.0 1309.7 L672.0 1313.7 L673.3 1316.3 L670.0 1318.3 L665.3 1319.0 L661.3 1320.3 L658.7 1317.7 L658.0 1320.3 L660.7 1323.0 L662.0 1326.3 L659.3 1327.0 L656.0 1327.7 L652.0 1327.0 L648.7 1325.7 L645.3 1325.0 L642.0 1324.3 L640.7 1323.0 L644.0 1322.3 L648.0 1323.0 L652.0 1323.7 L656.0 1324.3 L659.3 1325.0 L662.7 1327.7 L664.7 1330.3 L666.0 1332.3 L670.0 1334.3 L673.3 1336.3 L676.7 1338.3 L679.3 1341.7 L682.0 1345.7 L684.7 1349.0 L686.0 1352.3 L688.0 1349.7 L688.7 1353.0 L686.7 1355.0 L687.3 1360.3 L688.3 1365.7 L688.0 1371.0 L689.1 1376.3 L687.3 1381.0 L688.0 1385.7 L690.0 1389.7 L687.3 1393.7 L684.7 1397.7 L682.0 1401.7 L679.3 1405.0 L680.0 1409.7 L682.0 1411.0 L682.7 1414.3 L680.0 1417.7 L676.0 1419.7 L673.3 1417.7 L672.7 1415.0 L671.3 1419.0 L670.7 1423.0 L668.0 1425.7 L666.0 1429.0 L665.3 1433.7 L664.0 1437.7 L662.0 1442.3 L658.7 1444.3 L656.0 1447.0 L655.3 1451.0 L653.3 1455.0 L653.3 1455.3 L650.0 1457.3 L648.0 1460.7 L644.0 1463.3 L638.7 1466.0 L633.3 1468.0 L628.7 1469.3 L628.0 1465.3 L625.3 1466.0 L621.3 1468.0 L617.3 1467.3 L613.3 1469.3 L610.0 1468.7 L606.7 1471.3 L605.3 1473.3 L601.3 1471.3 L596.0 1472.0 L592.0 1472.0 L588.0 1470.0 L586.7 1467.3 L584.7 1465.3 L584.0 1468.7 L580.0 1469.3 L575.3 1469.3 L572.0 1468.7 L568.7 1467.3 L567.3 1464.7 L568.0 1460.7 L569.3 1457.3 L568.0 1454.0 L570.7 1455.3 L573.3 1458.0 L575.3 1455.3 L574.7 1451.3 L576.7 1448.7 L576.0 1444.7 L578.0 1441.3 L576.0 1440.7 L574.0 1438.0 L572.7 1434.0 L570.7 1431.3 L568.7 1428.7 L566.7 1432.0 L564.0 1432.7 L565.3 1430.7 L566.7 1428.7 L564.7 1426.0 L566.7 1424.0 L570.0 1423.3 L571.3 1420.7 L570.7 1416.7 L570.0 1412.7 L568.7 1410.0 L566.7 1407.3 L564.7 1404.7 L564.0 1402.0 L561.3 1402.7 L558.7 1399.3 L554.7 1396.7 L550.5 1394.7 L546.7 1392.0 L542.7 1389.3 L538.7 1386.7 L541.3 1390.0 L540.7 1392.7 L542.7 1396.7 L545.3 1402.0 L544.0 1400.7 L542.0 1397.3 L540.0 1394.7 L536.7 1396.0 L532.7 1397.3 L528.7 1399.3 L527.3 1403.3 L524.7 1406.7 L521.3 1406.0 L519.3 1409.3 L521.3 1412.7 L520.0 1416.7 L522.0 1420.7 L524.0 1424.7 L522.7 1428.7 L520.0 1429.3 L517.3 1426.0 L514.7 1423.3 L512.0 1421.3 L508.0 1423.3 L504.0 1426.7 L500.0 1428.7 L499.0 1427.0 L493.7 1425.7 L488.3 1423.7 L483.0 1420.3 L479.0 1415.0 L476.3 1409.7 L473.7 1404.3 L471.0 1399.0 L469.0 1393.7 L467.7 1388.3 L465.7 1383.0 L464.3 1379.7 L465.7 1377.0 L465.0 1374.3 L461.7 1375.0 L459.0 1379.0 L456.3 1383.0 L453.7 1380.3 L452.3 1376.3 L451.0 1371.0 L449.7 1365.7 L448.3 1361.7 L451.0 1356.3 L452.3 1351.0 L453.7 1345.7 L455.0 1340.3 L457.0 1336.3 L457.7 1329.7 L456.3 1323.0 L452.3 1320.3 L445.7 1319.0 L439.0 1320.3 L435.0 1324.3 L433.0 1321.7 L432.3 1317.7 L430.3 1313.7 L427.0 1312.3 L424.3 1309.7 L421.7 1305.7 L419.0 1301.7 L416.3 1296.3 L415.0 1291.0 L416.3 1285.7 L415.0 1280.3 L417.0 1276.3 L418.7 1281.7 L420.3 1288.3 L423.7 1293.7 L426.3 1299.0 L427.7 1304.3 L431.0 1308.3 L435.0 1307.7 L439.0 1306.3 L443.0 1308.3 L447.0 1310.3 L451.0 1312.3 L455.7 1313.7 L460.3 1315.0 L464.3 1317.0 L467.7 1319.0 L471.0 1321.0 L473.0 1323.7 L474.3 1327.0 L475.7 1331.0 L475.0 1336.3 L473.7 1340.3 L475.0 1343.7 L477.7 1341.7 L480.3 1339.0 L482.3 1341.0 L480.3 1343.7 L478.3 1347.0 L480.3 1349.0 L482.3 1345.7 L484.3 1343.0 L487.0 1343.7 L489.0 1347.0 L487.0 1350.3 L482.3 1351.7 L480.3 1354.3 L484.3 1353.7 L488.3 1354.3 L490.3 1351.0 L493.0 1350.3 L494.3 1347.7 L497.7 1347.0 L500.3 1343.7 L503.0 1342.3 L505.7 1340.3 L508.3 1338.3 L511.0 1340.3 L514.3 1342.3 L516.3 1340.3 L514.3 1337.0 L514.1 1333.0 L515.7 1329.0 L518.3 1325.7 L517.4 1321.7 L517.0 1317.0 L518.3 1313.0 L521.0 1310.3 L525.0 1307.7 L521.7 1308.3 L517.7 1309.7 L514.3 1311.0 L512.3 1309.0 L509.7 1306.3 L508.6 1301.7 L509.4 1296.3 L511.0 1291.7 L513.7 1287.7 L517.7 1283.7 L521.0 1281.0 L522.3 1277.0 L523.0 1272.3 L525.0 1269.7 L523.0 1266.3 L523.7 1263.0 L527.0 1261.0 L526.3 1258.3 L528.3 1255.0 L528.0 1258.0 L530.0 1253.0 L533.0 1254.0 L535.0 1250.0 L538.0 1252.0 L542.0 1249.0 Z"/>
<path d="M498.3 1313.0 L501.7 1312.1 L505.7 1313.7 L508.3 1317.0 L510.3 1321.7 L509.0 1326.3 L506.3 1329.7 L504.3 1327.0 L503.7 1323.0 L501.7 1320.3 L499.0 1317.7 L497.7 1315.0 Z"/>
<path d="M487.7 1335.7 L491.0 1338.3 L495.0 1337.7 L500.3 1335.0 L501.7 1336.3 L497.7 1339.7 L492.3 1341.7 L489.0 1339.7 Z"/>
<path d="M529.0 1416.3 L531.0 1415.0 L533.4 1419.7 L531.0 1422.3 L529.0 1420.3 Z"/>
<path d="M441.0 1325.0 L445.7 1323.0 L451.0 1324.3 L453.7 1327.7 L452.3 1331.7 L448.3 1333.7 L443.7 1334.3 L441.0 1331.0 Z"/>
<path d="M440.3 1329.7 L441.7 1333.7 L441.0 1336.3 L439.7 1333.7 Z"/>
<path d="M445.0 1327.7 L448.3 1326.3 L450.3 1329.0 L447.7 1331.0 L445.4 1330.3 Z"/>
<path d="M453.7 1335.0 L455.7 1334.3 L457.0 1337.0 L455.0 1339.0 L453.7 1337.7 Z"/>
<path d="M416.3 1273.0 L419.7 1272.3 L422.3 1276.3 L423.0 1281.0 L421.0 1283.7 L418.3 1281.7 L417.0 1277.7 Z"/>
<path d="M413.7 1287.7 L416.3 1287.0 L417.7 1292.3 L417.0 1297.0 L414.7 1297.7 L413.7 1293.0 Z"/>
<path d="M422.3 1309.0 L425.7 1308.1 L428.3 1311.0 L427.0 1314.3 L423.7 1313.7 Z"/>
<path d="M408.3 1274.3 L409.1 1275.0 L408.6 1279.7 L407.9 1279.0 Z"/>
<path d="M407.7 1282.3 L408.6 1283.0 L408.1 1288.3 L407.4 1287.7 Z"/>
<path d="M409.0 1263.0 L410.3 1262.3 L409.9 1265.0 Z"/>
<path d="M444.3 1372.3 L446.3 1371.0 L448.3 1375.0 L447.7 1380.3 L445.7 1381.7 L444.3 1377.7 Z"/>
<path d="M463.7 1392.3 L465.7 1391.0 L467.7 1396.3 L469.7 1401.7 L468.3 1403.0 L465.7 1397.7 Z"/>
<path d="M469.0 1405.7 L471.0 1405.0 L473.7 1411.0 L474.3 1417.0 L472.3 1419.0 L470.7 1413.7 Z"/>
<path d="M480.3 1419.7 L482.3 1419.0 L483.0 1421.7 L481.0 1421.9 Z"/>
<path d="M506.3 1422.3 L509.7 1421.0 L513.0 1423.0 L511.0 1427.0 L507.7 1426.3 Z"/>
<path d="M528.7 1416.7 L531.3 1416.0 L533.1 1420.0 L532.0 1422.7 L530.0 1422.0 L528.7 1419.3 Z"/>
<path d="M532.3 1403.6 L533.3 1404.0 L532.9 1404.9 Z"/>
<path d="M534.3 1407.6 L535.3 1408.0 L534.9 1408.9 Z"/>
<path d="M585.1 1486.8 L586.1 1487.3 L585.6 1488.1 Z"/>
<path d="M589.1 1488.9 L590.1 1489.5 L589.6 1490.3 Z"/>
<path d="M591.5 1490.8 L592.5 1491.3 L592.0 1492.1 Z"/>
<path d="M692.8 1366.5 L693.9 1367.0 L693.3 1367.8 Z"/>
<path d="M690.1 1376.5 L691.2 1377.0 L690.7 1377.8 Z"/>
<path d="M691.1 1386.3 L692.7 1385.7 L693.6 1387.3 L692.3 1388.3 Z"/>
<path d="M692.1 1393.1 L693.2 1393.7 L692.7 1394.5 Z"/>
<path d="M515.7 1274.3 L517.7 1273.7 L518.3 1277.0 L516.3 1277.0 Z"/>
</g>
<circle cx="550.50" cy="1361.25" r="2.6" fill="#fff"/>
</g>
<circle cx="550.50" cy="1361.25" r="206.25" fill="none" stroke="#000" stroke-width="1.75"/>
<text x="550.5" y="1142.50" font-size="23.96" text-anchor="middle">Model - Observation</text>
<text x="756.75" y="1142.50" font-size="18.75" text-anchor="end">mm/day</text>
<text x="791.3" y="1152.25" font-size="18.75" letter-spacing="-0.3">Max</text><text x="917.4" y="1152.25" font-size="18.75" text-anchor="end" letter-spacing="-0.3">1.90</text><text x="791.3" y="1174.05" font-size="18.75" letter-spacing="-0.3">Mean</text><text x="917.4" y="1174.05" font-size="18.75" text-anchor="end" letter-spacing="-0.3">-0.04</text><text x="791.3" y="1195.85" font-size="18.75" letter-spacing="-0.3">Min</text><text x="917.4" y="1195.85" font-size="18.75" text-anchor="end" letter-spacing="-0.3">-1.14</text>
<path d="M790.50 1247.83 L790.50 1226.85 L811.29 1213.41 L832.07 1226.85 L832.07 1247.83 Z" fill="#003c30"/><rect x="790.50" y="1247.53" width="41.57" height="20.98" fill="#016058"/><rect x="790.50" y="1268.20" width="41.57" height="20.98" fill="#258880"/><rect x="790.50" y="1288.88" width="41.57" height="20.98" fill="#5bb3a8"/><rect x="790.50" y="1309.56" width="41.57" height="20.98" fill="#98d7cd"/><rect x="790.50" y="1330.23" width="41.57" height="20.98" fill="#d0ece8"/><rect x="790.50" y="1350.91" width="41.57" height="20.98" fill="#f5f5f4"/><rect x="790.50" y="1371.59" width="41.57" height="20.98" fill="#f6eacb"/><rect x="790.50" y="1392.27" width="41.57" height="20.98" fill="#e7cf94"/><rect x="790.50" y="1412.94" width="41.57" height="20.98" fill="#cea053"/><rect x="790.50" y="1433.62" width="41.57" height="20.98" fill="#ad7021"/><rect x="790.50" y="1454.30" width="41.57" height="20.98" fill="#824b09"/><path d="M790.50 1474.97 L790.50 1495.65 L811.29 1509.09 L832.07 1495.65 L832.07 1474.97 Z" fill="#543005"/><path d="M790.50 1226.85 L811.29 1213.41 L832.07 1226.85 L832.07 1495.65 L811.29 1509.09 L790.50 1495.65 Z" fill="none" stroke="#000" stroke-width="1.67" stroke-linejoin="miter"/><text x="884.5" y="1254.93" font-size="18.75" text-anchor="end">2.00</text><text x="884.5" y="1275.60" font-size="18.75" text-anchor="end">1.50</text><text x="884.5" y="1296.28" font-size="18.75" text-anchor="end">1.00</text><text x="884.5" y="1316.96" font-size="18.75" text-anchor="end">0.75</text><text x="884.5" y="1337.63" font-size="18.75" text-anchor="end">0.50</text><text x="884.5" y="1358.31" font-size="18.75" text-anchor="end">0.25</text><text x="884.5" y="1378.99" font-size="18.75" text-anchor="end">-0.25</text><text x="884.5" y="1399.67" font-size="18.75" text-anchor="end">-0.50</text><text x="884.5" y="1420.34" font-size="18.75" text-anchor="end">-0.75</text><text x="884.5" y="1441.02" font-size="18.75" text-anchor="end">-1.00</text><text x="884.5" y="1461.70" font-size="18.75" text-anchor="end">-1.50</text><text x="884.5" y="1482.37" font-size="18.75" text-anchor="end">-2.00</text>
<text x="791.3" y="1545.5" font-size="18.75" letter-spacing="-0.3">RMSE</text>
<text x="917.4" y="1545.5" font-size="18.75" text-anchor="end" letter-spacing="-0.3">0.45</text>
<text x="791.3" y="1567.3" font-size="18.75" letter-spacing="-0.3">CORR</text>
<text x="917.4" y="1567.3" font-size="18.75" text-anchor="end" letter-spacing="-0.3">0.90</text>
</svg></body></html>
